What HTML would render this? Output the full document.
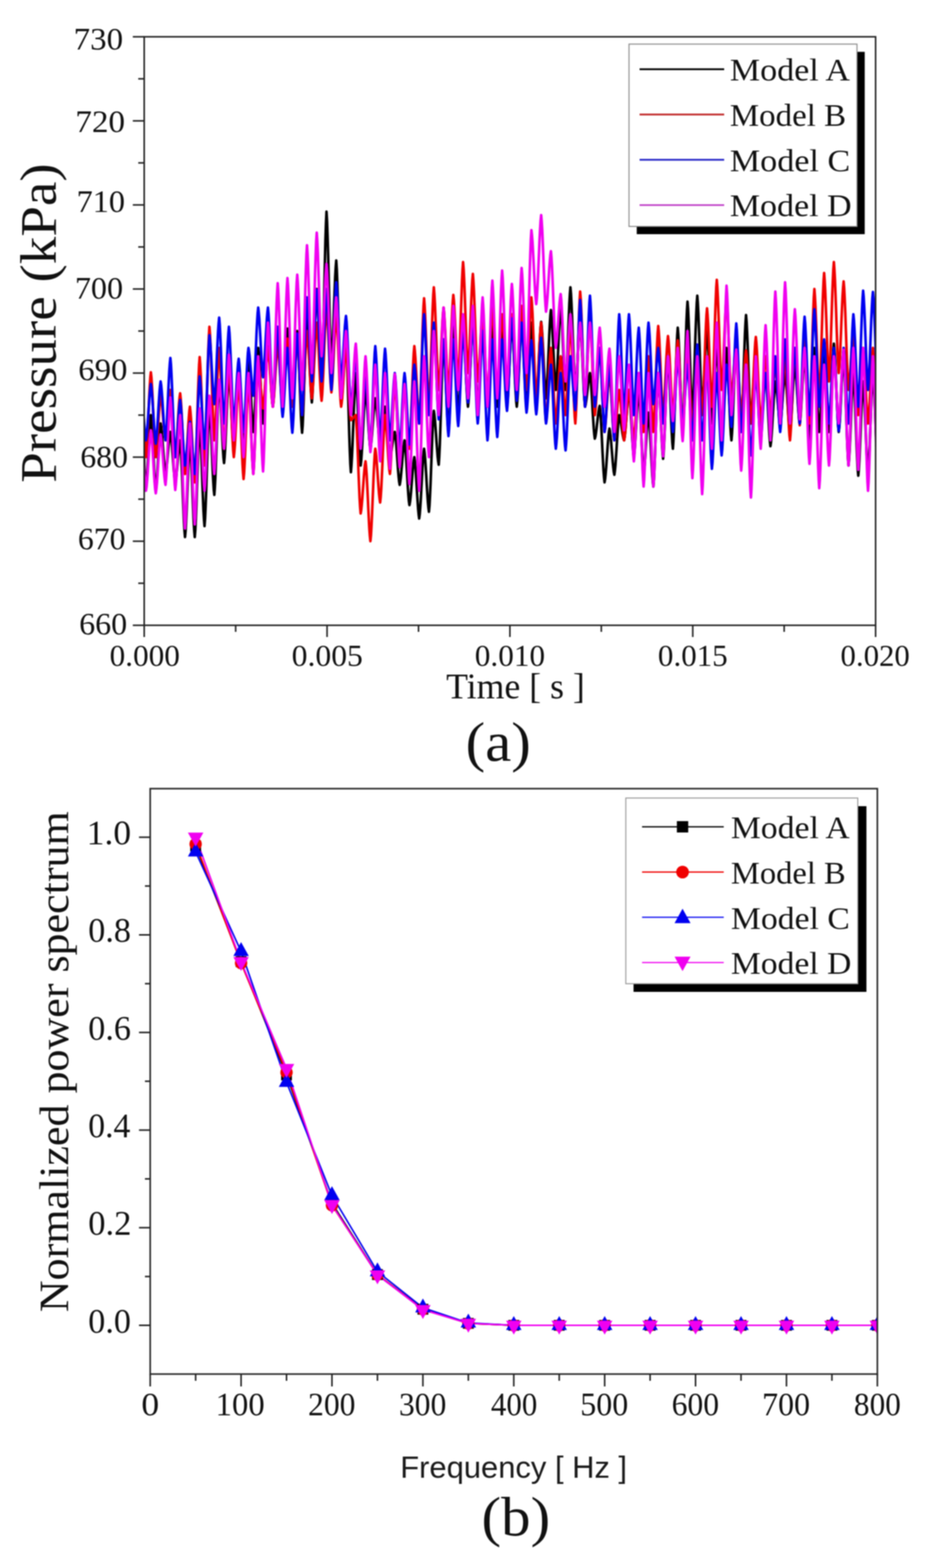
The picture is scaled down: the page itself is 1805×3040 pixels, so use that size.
<!DOCTYPE html><html><head><meta charset="utf-8"><title>Pressure and power spectrum</title><style>html,body{margin:0;padding:0;background:#fff;}svg{display:block;filter:blur(1.1px)}</style></head><body>
<svg width="1805" height="3040" viewBox="0 0 1805 3040">
<rect width="1805" height="3040" fill="#fff"/>
<defs><clipPath id="c1"><rect x="279.6" y="71.3" width="1418.0" height="1141.0"/></clipPath><clipPath id="c2"><rect x="291.2" y="1529.0" width="1409.8" height="1135.0"/></clipPath></defs>
<g clip-path="url(#c1)" fill="none" stroke-width="5.0" stroke-linejoin="round">
<path d="M277.8,855.8 278.8,879.3 279.9,901.8 280.9,921.5 282.0,936.7 283.0,946.6 284.1,937.7 285.1,924.1 286.2,906.4 287.2,886.2 288.3,865.2 289.3,845.0 290.4,827.4 291.4,813.7 292.5,804.8 293.6,814.0 294.6,828.1 295.7,846.4 296.7,867.2 297.8,889.1 298.8,909.9 299.9,928.2 300.9,942.3 302.0,951.5 303.0,943.3 304.1,930.8 305.1,914.6 306.2,896.0 307.2,876.6 308.3,858.0 309.3,841.8 310.4,829.3 311.4,821.1 312.5,827.2 313.5,836.7 314.6,848.8 315.6,862.7 316.7,877.3 317.7,891.2 318.8,903.3 319.8,912.8 320.9,918.9 321.9,913.8 323.0,905.9 324.0,895.8 325.1,884.2 326.1,872.1 327.2,860.5 328.2,850.4 329.3,842.5 330.3,837.4 331.4,843.5 332.4,853.0 333.5,865.1 334.5,879.0 335.6,893.6 336.6,907.5 337.7,919.6 338.7,929.1 339.8,935.2 340.8,930.1 341.9,922.2 342.9,912.1 344.0,900.5 345.0,888.4 346.1,876.8 347.1,866.7 348.2,858.8 349.3,853.7 350.3,865.4 351.4,883.5 352.4,906.8 353.5,933.5 354.5,961.4 355.6,988.0 356.6,1011.3 357.7,1029.4 358.7,1041.2 359.8,1029.4 360.8,1011.3 361.9,988.0 362.9,961.4 364.0,933.5 365.0,906.8 366.1,883.5 367.1,865.4 368.2,853.7 369.2,865.4 370.3,883.5 371.3,906.8 372.4,933.5 373.4,961.4 374.5,988.0 375.5,1011.3 376.6,1029.4 377.6,1041.2 378.7,1027.4 379.7,1006.1 380.8,978.8 381.8,947.5 382.9,914.8 383.9,883.4 385.0,856.1 386.0,834.9 387.1,821.1 388.1,833.5 389.2,852.7 390.2,877.4 391.3,905.8 392.3,935.3 393.4,963.6 394.4,988.3 395.5,1007.5 396.5,1020.0 397.6,1005.5 398.6,983.1 399.7,954.4 400.7,921.4 401.8,887.0 402.8,854.1 403.9,825.3 405.0,803.0 406.0,788.5 407.1,799.2 408.1,815.7 409.2,837.0 410.2,861.4 411.3,886.8 412.3,911.2 413.4,932.4 414.4,948.9 415.5,959.6 416.5,945.9 417.6,924.6 418.6,897.3 419.7,866.0 420.7,833.3 421.8,801.9 422.8,774.6 423.9,753.4 424.9,739.6 426.0,749.5 427.0,764.8 428.1,784.4 429.1,806.9 430.2,830.4 431.2,852.9 432.3,872.6 433.3,887.8 434.4,897.7 435.4,886.8 436.5,870.0 437.5,848.3 438.6,823.5 439.6,797.5 440.7,772.7 441.7,751.0 442.8,734.2 443.8,723.3 444.9,732.5 445.9,746.6 447.0,764.9 448.0,785.7 449.1,807.6 450.1,828.4 451.2,846.7 452.2,860.8 453.3,870.0 454.3,859.8 455.4,844.1 456.4,823.8 457.5,800.6 458.5,776.4 459.6,753.2 460.7,732.9 461.7,717.2 462.8,707.0 463.8,716.2 464.9,730.3 465.9,748.6 467.0,769.4 468.0,791.3 469.1,812.1 470.1,830.4 471.2,844.5 472.2,853.7 473.3,843.5 474.3,827.8 475.4,807.5 476.4,784.3 477.5,760.1 478.5,736.9 479.6,716.6 480.6,700.9 481.7,690.7 482.7,699.9 483.8,714.0 484.8,732.3 485.9,753.1 486.9,775.0 488.0,795.8 489.0,814.1 490.1,828.2 491.1,837.4 492.2,827.2 493.2,811.5 494.3,791.2 495.3,768.0 496.4,743.8 497.4,720.6 498.5,700.3 499.5,684.6 500.6,674.4 501.6,683.6 502.7,697.7 503.7,716.0 504.8,736.8 505.8,758.7 506.9,779.5 507.9,797.8 509.0,811.9 510.0,821.1 511.1,810.9 512.1,795.2 513.2,774.9 514.2,751.7 515.3,727.5 516.4,704.3 517.4,684.0 518.5,668.3 519.5,658.1 520.6,666.3 521.6,678.8 522.7,695.0 523.7,713.6 524.8,733.0 525.8,751.6 526.9,767.8 527.9,780.3 529.0,788.5 530.0,779.3 531.1,765.2 532.1,746.9 533.2,726.1 534.2,704.2 535.3,683.4 536.3,665.1 537.4,651.0 538.4,641.8 539.5,651.0 540.5,665.1 541.6,683.4 542.6,704.2 543.7,726.1 544.7,746.9 545.8,765.2 546.8,779.3 547.9,788.5 548.9,779.0 550.0,764.4 551.0,745.5 552.1,724.0 553.1,701.4 554.2,679.9 555.2,661.0 556.3,646.4 557.3,636.9 558.4,646.4 559.4,661.0 560.5,679.9 561.5,701.4 562.6,724.0 563.6,745.5 564.7,764.4 565.7,779.0 566.8,788.5 567.8,779.3 568.9,765.2 569.9,746.9 571.0,726.1 572.1,704.2 573.1,683.4 574.2,665.1 575.2,651.0 576.3,641.8 577.3,654.1 578.4,673.2 579.4,697.7 580.5,725.8 581.5,755.1 582.6,783.1 583.6,807.7 584.7,826.7 585.7,839.0 586.8,824.7 587.8,802.5 588.9,773.9 589.9,741.2 591.0,707.0 592.0,674.3 593.1,645.8 594.1,623.6 595.2,609.2 596.2,619.9 597.3,636.4 598.3,657.7 599.4,682.1 600.4,707.5 601.5,731.9 602.5,753.1 603.6,769.6 604.6,780.3 605.7,766.6 606.7,745.3 607.8,718.0 608.8,686.7 609.9,654.0 610.9,622.6 612.0,595.3 613.0,574.1 614.1,560.3 615.1,572.5 616.2,591.4 617.2,615.7 618.3,643.6 619.3,672.6 620.4,700.5 621.4,724.8 622.5,743.7 623.5,755.9 624.6,734.3 625.6,700.9 626.7,658.0 627.8,608.8 628.8,557.4 629.9,508.2 630.9,465.3 632.0,432.0 633.0,410.3 634.1,428.9 635.1,457.5 636.2,494.4 637.2,536.6 638.3,580.7 639.3,622.9 640.4,659.8 641.4,688.4 642.5,707.0 643.5,694.4 644.6,674.8 645.6,649.7 646.7,621.0 647.7,590.9 648.8,562.1 649.8,537.0 650.9,517.5 651.9,504.9 653.0,522.3 654.0,549.2 655.1,583.9 656.1,623.5 657.2,665.0 658.2,704.6 659.3,739.3 660.3,766.2 661.4,783.6 662.4,775.8 663.5,763.6 664.5,748.0 665.6,730.2 666.6,711.5 667.7,693.7 668.7,678.1 669.8,665.9 670.8,658.1 671.9,674.2 672.9,699.1 674.0,731.1 675.0,767.7 676.1,806.0 677.1,842.7 678.2,874.7 679.2,899.5 680.3,915.6 681.3,903.6 682.4,885.0 683.5,861.1 684.5,833.8 685.6,805.2 686.6,777.8 687.7,753.9 688.7,735.3 689.8,723.3 690.8,734.5 691.9,751.8 692.9,774.1 694.0,799.6 695.0,826.3 696.1,851.8 697.1,874.1 698.2,891.4 699.2,902.6 700.3,893.4 701.3,879.3 702.4,861.0 703.4,840.2 704.5,818.3 705.5,797.5 706.6,779.2 707.6,765.1 708.7,755.9 709.7,763.0 710.8,774.1 711.8,788.2 712.9,804.5 713.9,821.4 715.0,837.7 716.0,851.8 717.1,862.9 718.1,870.0 719.2,863.9 720.2,854.4 721.3,842.3 722.3,828.4 723.4,813.8 724.4,799.9 725.5,787.8 726.5,778.3 727.6,772.2 728.6,777.8 729.7,786.5 730.7,797.6 731.8,810.4 732.8,823.7 733.9,836.4 734.9,847.6 736.0,856.2 737.0,861.8 738.1,857.3 739.2,850.2 740.2,841.1 741.3,830.6 742.3,819.7 743.4,809.3 744.4,800.2 745.5,793.1 746.5,788.5 747.6,794.6 748.6,804.1 749.7,816.2 750.7,830.1 751.8,844.7 752.8,858.6 753.9,870.7 754.9,880.2 756.0,886.3 757.0,883.2 758.1,878.5 759.1,872.4 760.2,865.5 761.2,858.2 762.3,851.3 763.3,845.2 764.4,840.5 765.4,837.4 766.5,843.8 767.5,853.7 768.6,866.5 769.6,881.1 770.7,896.4 771.7,911.0 772.8,923.8 773.8,933.7 774.9,940.1 775.9,934.7 777.0,926.3 778.0,915.6 779.1,903.3 780.1,890.5 781.2,878.2 782.2,867.4 783.3,859.1 784.3,853.7 785.4,861.5 786.4,873.7 787.5,889.3 788.5,907.1 789.6,925.8 790.6,943.6 791.7,959.2 792.7,971.4 793.8,979.2 794.9,973.4 795.9,964.4 797.0,952.9 798.0,939.7 799.1,925.9 800.1,912.6 801.2,901.1 802.2,892.1 803.3,886.3 804.3,893.7 805.4,905.2 806.4,920.0 807.5,937.0 808.5,954.6 809.6,971.6 810.6,986.4 811.7,997.8 812.7,1005.3 813.8,996.8 814.8,983.8 815.9,967.0 816.9,947.7 818.0,927.6 819.0,908.3 820.1,891.5 821.1,878.5 822.2,870.0 823.2,877.6 824.3,889.4 825.3,904.6 826.4,922.0 827.4,940.2 828.5,957.6 829.5,972.8 830.6,984.6 831.6,992.2 832.7,980.0 833.7,961.1 834.8,936.8 835.8,909.0 836.9,879.9 837.9,852.1 839.0,827.8 840.0,808.9 841.1,796.6 842.1,803.2 843.2,813.2 844.2,826.2 845.3,841.1 846.3,856.6 847.4,871.4 848.4,884.4 849.5,894.4 850.6,901.0 851.6,885.8 852.7,862.3 853.7,832.2 854.8,797.6 855.8,761.5 856.9,726.9 857.9,696.7 859.0,673.3 860.0,658.1 861.1,669.3 862.1,686.6 863.2,708.9 864.2,734.4 865.3,761.1 866.3,786.6 867.4,808.9 868.4,826.2 869.5,837.4 870.5,824.1 871.6,803.7 872.6,777.4 873.7,747.2 874.7,715.7 875.8,685.5 876.8,659.2 877.9,638.8 878.9,625.5 880.0,636.7 881.0,654.0 882.1,676.3 883.1,701.8 884.2,728.5 885.2,754.0 886.3,776.3 887.3,793.6 888.4,804.8 889.4,793.6 890.5,776.3 891.5,754.0 892.6,728.5 893.6,701.8 894.7,676.3 895.7,654.0 896.8,636.7 897.8,625.5 898.9,635.7 899.9,651.4 901.0,671.7 902.0,694.9 903.1,719.1 904.1,742.3 905.2,762.6 906.3,778.3 907.3,788.5 908.4,778.3 909.4,762.6 910.5,742.3 911.5,719.1 912.6,694.9 913.6,671.7 914.7,651.4 915.7,635.7 916.8,625.5 917.8,635.7 918.9,651.4 919.9,671.7 921.0,694.9 922.0,719.1 923.1,742.3 924.1,762.6 925.2,778.3 926.2,788.5 927.3,778.3 928.3,762.6 929.4,742.3 930.4,719.1 931.5,694.9 932.5,671.7 933.6,651.4 934.6,635.7 935.7,625.5 936.7,635.7 937.8,651.4 938.8,671.7 939.9,694.9 940.9,719.1 942.0,742.3 943.0,762.6 944.1,778.3 945.1,788.5 946.2,778.3 947.2,762.6 948.3,742.3 949.3,719.1 950.4,694.9 951.4,671.7 952.5,651.4 953.5,635.7 954.6,625.5 955.6,635.7 956.7,651.4 957.7,671.7 958.8,694.9 959.8,719.1 960.9,742.3 962.0,762.6 963.0,778.3 964.1,788.5 965.1,778.3 966.2,762.6 967.2,742.3 968.3,719.1 969.3,694.9 970.4,671.7 971.4,651.4 972.5,635.7 973.5,625.5 974.6,635.7 975.6,651.4 976.7,671.7 977.7,694.9 978.8,719.1 979.8,742.3 980.9,762.6 981.9,778.3 983.0,788.5 984.0,778.3 985.1,762.6 986.1,742.3 987.2,719.1 988.2,694.9 989.3,671.7 990.3,651.4 991.4,635.7 992.4,625.5 993.5,635.7 994.5,651.4 995.6,671.7 996.6,694.9 997.7,719.1 998.7,742.3 999.8,762.6 1000.8,778.3 1001.9,788.5 1002.9,778.3 1004.0,762.6 1005.0,742.3 1006.1,719.1 1007.1,694.9 1008.2,671.7 1009.2,651.4 1010.3,635.7 1011.3,625.5 1012.4,635.7 1013.4,651.4 1014.5,671.7 1015.5,694.9 1016.6,719.1 1017.7,742.3 1018.7,762.6 1019.8,778.3 1020.8,788.5 1021.9,778.3 1022.9,762.6 1024.0,742.3 1025.0,719.1 1026.1,694.9 1027.1,671.7 1028.2,651.4 1029.2,635.7 1030.3,625.5 1031.3,635.7 1032.4,651.4 1033.4,671.7 1034.5,694.9 1035.5,719.1 1036.6,742.3 1037.6,762.6 1038.7,778.3 1039.7,788.5 1040.8,778.2 1041.8,762.3 1042.9,741.9 1043.9,718.4 1045.0,694.0 1046.0,670.5 1047.1,650.1 1048.1,634.2 1049.2,623.9 1050.2,633.1 1051.3,647.5 1052.3,665.9 1053.4,687.0 1054.4,709.1 1055.5,730.2 1056.5,748.6 1057.6,762.9 1058.6,772.2 1059.7,761.5 1060.7,745.0 1061.8,723.7 1062.8,699.3 1063.9,673.9 1064.9,649.5 1066.0,628.3 1067.0,611.8 1068.1,601.0 1069.1,610.7 1070.2,625.7 1071.2,644.9 1072.3,667.0 1073.4,690.0 1074.4,712.0 1075.5,731.3 1076.5,746.2 1077.6,755.9 1078.6,745.7 1079.7,730.0 1080.7,709.7 1081.8,686.5 1082.8,662.3 1083.9,639.1 1084.9,618.8 1086.0,603.1 1087.0,592.9 1088.1,603.1 1089.1,618.8 1090.2,639.1 1091.2,662.3 1092.3,686.5 1093.3,709.7 1094.4,730.0 1095.4,745.7 1096.5,755.9 1097.5,743.5 1098.6,724.3 1099.6,699.6 1100.7,671.2 1101.7,641.7 1102.8,613.4 1103.8,588.7 1104.9,569.5 1105.9,557.0 1107.0,569.5 1108.0,588.7 1109.1,613.4 1110.1,641.7 1111.2,671.2 1112.2,699.6 1113.3,724.3 1114.3,743.5 1115.4,755.9 1116.4,747.7 1117.5,735.2 1118.5,719.0 1119.6,700.4 1120.6,681.0 1121.7,662.4 1122.7,646.2 1123.8,633.7 1124.8,625.5 1125.9,635.7 1126.9,651.4 1128.0,671.7 1129.1,694.9 1130.1,719.1 1131.2,742.3 1132.2,762.6 1133.3,778.3 1134.3,788.5 1135.4,784.4 1136.4,778.1 1137.5,770.0 1138.5,760.7 1139.6,751.1 1140.6,741.8 1141.7,733.7 1142.7,727.4 1143.8,723.3 1144.8,731.3 1145.9,743.5 1146.9,759.3 1148.0,777.4 1149.0,796.3 1150.1,814.4 1151.1,830.2 1152.2,842.5 1153.2,850.4 1154.3,846.5 1155.3,840.3 1156.4,832.4 1157.4,823.4 1158.5,813.9 1159.5,804.9 1160.6,797.0 1161.6,790.8 1162.7,786.9 1163.7,796.1 1164.8,810.5 1165.8,828.9 1166.9,850.0 1167.9,872.1 1169.0,893.2 1170.0,911.6 1171.1,925.9 1172.1,935.2 1173.2,928.7 1174.2,918.6 1175.3,905.6 1176.3,890.8 1177.4,875.3 1178.4,860.4 1179.5,847.5 1180.5,837.4 1181.6,830.9 1182.6,836.5 1183.7,845.1 1184.8,856.3 1185.8,869.0 1186.9,882.4 1187.9,895.1 1189.0,906.3 1190.0,914.9 1191.1,920.5 1192.1,913.3 1193.2,902.1 1194.2,887.7 1195.3,871.3 1196.3,854.1 1197.4,837.6 1198.4,823.2 1199.5,812.0 1200.5,804.8 1201.6,807.9 1202.6,812.6 1203.7,818.7 1204.7,825.6 1205.8,832.9 1206.8,839.8 1207.9,845.9 1208.9,850.6 1210.0,853.7 1211.0,847.6 1212.1,838.1 1213.1,826.0 1214.2,812.1 1215.2,797.5 1216.3,783.6 1217.3,771.5 1218.4,762.0 1219.4,755.9 1220.5,764.1 1221.5,776.6 1222.6,792.8 1223.6,811.4 1224.7,830.8 1225.7,849.4 1226.8,865.6 1227.8,878.1 1228.9,886.3 1229.9,878.1 1231.0,865.6 1232.0,849.4 1233.1,830.8 1234.1,811.4 1235.2,792.8 1236.2,776.6 1237.3,764.1 1238.4,755.9 1239.4,766.1 1240.5,781.8 1241.5,802.1 1242.6,825.3 1243.6,849.5 1244.7,872.7 1245.7,893.0 1246.8,908.7 1247.8,918.9 1248.9,911.5 1249.9,900.0 1251.0,885.2 1252.0,868.2 1253.1,850.6 1254.1,833.6 1255.2,818.8 1256.2,807.4 1257.3,799.9 1258.3,808.9 1259.4,822.7 1260.4,840.6 1261.5,861.0 1262.5,882.3 1263.6,902.7 1264.6,920.5 1265.7,934.4 1266.7,943.3 1267.8,929.6 1268.8,908.3 1269.9,881.0 1270.9,849.7 1272.0,817.0 1273.0,785.6 1274.1,758.3 1275.1,737.1 1276.2,723.3 1277.2,733.7 1278.3,749.7 1279.3,770.4 1280.4,794.1 1281.4,818.8 1282.5,842.5 1283.5,863.1 1284.6,879.2 1285.6,889.6 1286.7,877.1 1287.7,857.9 1288.8,833.2 1289.8,804.9 1290.9,775.4 1291.9,747.0 1293.0,722.3 1294.1,703.1 1295.1,690.7 1296.2,701.9 1297.2,719.2 1298.3,741.5 1299.3,767.0 1300.4,793.7 1301.4,819.2 1302.5,841.5 1303.5,858.8 1304.6,870.0 1305.6,855.3 1306.7,832.7 1307.7,803.5 1308.8,770.1 1309.8,735.2 1310.9,701.8 1311.9,672.6 1313.0,650.0 1314.0,635.3 1315.1,647.9 1316.1,667.4 1317.2,692.5 1318.2,721.3 1319.3,751.4 1320.3,780.1 1321.4,805.2 1322.4,824.8 1323.5,837.4 1324.5,821.6 1325.6,797.2 1326.6,765.8 1327.7,729.9 1328.7,692.3 1329.8,656.3 1330.8,624.9 1331.9,600.5 1332.9,584.8 1334.0,598.5 1335.0,619.8 1336.1,647.1 1337.1,678.4 1338.2,711.1 1339.2,742.5 1340.3,769.8 1341.3,791.0 1342.4,804.8 1343.4,790.3 1344.5,768.0 1345.5,739.2 1346.6,706.3 1347.6,671.9 1348.7,638.9 1349.8,610.2 1350.8,587.8 1351.9,573.3 1352.9,586.8 1354.0,607.6 1355.0,634.3 1356.1,664.9 1357.1,696.9 1358.2,727.5 1359.2,754.3 1360.3,775.0 1361.3,788.5 1362.4,779.3 1363.4,765.2 1364.5,746.9 1365.5,726.1 1366.6,704.2 1367.6,683.4 1368.7,665.1 1369.7,651.0 1370.8,641.8 1371.8,653.0 1372.9,670.3 1373.9,692.6 1375.0,718.1 1376.0,744.8 1377.1,770.3 1378.1,792.6 1379.2,809.9 1380.2,821.1 1381.3,811.9 1382.3,797.8 1383.4,779.5 1384.4,758.7 1385.5,736.8 1386.5,716.0 1387.6,697.7 1388.6,683.6 1389.7,674.4 1390.7,685.6 1391.8,702.9 1392.8,725.2 1393.9,750.7 1394.9,777.4 1396.0,802.9 1397.0,825.2 1398.1,842.5 1399.1,853.7 1400.2,842.5 1401.2,825.2 1402.3,802.9 1403.3,777.4 1404.4,750.7 1405.5,725.2 1406.5,702.9 1407.6,685.6 1408.6,674.4 1409.7,685.6 1410.7,702.9 1411.8,725.2 1412.8,750.7 1413.9,777.4 1414.9,802.9 1416.0,825.2 1417.0,842.5 1418.1,853.7 1419.1,841.5 1420.2,822.6 1421.2,798.3 1422.3,770.4 1423.3,741.4 1424.4,713.5 1425.4,689.2 1426.5,670.3 1427.5,658.1 1428.6,669.3 1429.6,686.6 1430.7,708.9 1431.7,734.4 1432.8,761.1 1433.8,786.6 1434.9,808.9 1435.9,826.2 1437.0,837.4 1438.0,823.2 1439.1,801.4 1440.1,773.2 1441.2,741.0 1442.2,707.3 1443.3,675.0 1444.3,646.9 1445.4,625.0 1446.4,610.8 1447.5,624.0 1448.5,644.3 1449.6,670.4 1450.6,700.3 1451.7,731.6 1452.7,761.5 1453.8,787.7 1454.8,808.0 1455.9,821.1 1456.9,811.9 1458.0,797.8 1459.0,779.5 1460.1,758.7 1461.2,736.8 1462.2,716.0 1463.3,697.7 1464.3,683.6 1465.4,674.4 1466.4,684.6 1467.5,700.3 1468.5,720.6 1469.6,743.8 1470.6,768.0 1471.7,791.2 1472.7,811.5 1473.8,827.2 1474.8,837.4 1475.9,830.3 1476.9,819.2 1478.0,805.1 1479.0,788.8 1480.1,771.9 1481.1,755.6 1482.2,741.5 1483.2,730.4 1484.3,723.3 1485.3,732.2 1486.4,745.9 1487.4,763.5 1488.5,783.7 1489.5,804.7 1490.6,824.9 1491.6,842.6 1492.7,856.2 1493.7,865.1 1494.8,857.3 1495.8,845.1 1496.9,829.5 1497.9,811.7 1499.0,793.0 1500.0,775.2 1501.1,759.6 1502.1,747.4 1503.2,739.6 1504.2,744.7 1505.3,752.6 1506.3,762.7 1507.4,774.3 1508.4,786.4 1509.5,798.0 1510.5,808.1 1511.6,816.0 1512.6,821.1 1513.7,815.0 1514.7,805.5 1515.8,793.4 1516.9,779.5 1517.9,764.9 1519.0,751.0 1520.0,738.9 1521.1,729.4 1522.1,723.3 1523.2,730.4 1524.2,741.5 1525.3,755.6 1526.3,771.9 1527.4,788.8 1528.4,805.1 1529.5,819.2 1530.5,830.3 1531.6,837.4 1532.6,829.2 1533.7,816.7 1534.7,800.5 1535.8,781.9 1536.8,762.5 1537.9,743.9 1538.9,727.7 1540.0,715.2 1541.0,707.0 1542.1,714.1 1543.1,725.2 1544.2,739.3 1545.2,755.6 1546.3,772.5 1547.3,788.8 1548.4,802.9 1549.4,814.0 1550.5,821.1 1551.5,812.9 1552.6,800.4 1553.6,784.2 1554.7,765.6 1555.7,746.2 1556.8,727.6 1557.8,711.4 1558.9,698.9 1559.9,690.7 1561.0,700.9 1562.0,716.6 1563.1,736.9 1564.1,760.1 1565.2,784.3 1566.2,807.5 1567.3,827.8 1568.3,843.5 1569.4,853.7 1570.4,842.5 1571.5,825.2 1572.6,802.9 1573.6,777.4 1574.7,750.7 1575.7,725.2 1576.8,702.9 1577.8,685.6 1578.9,674.4 1579.9,684.6 1581.0,700.3 1582.0,720.6 1583.1,743.8 1584.1,768.0 1585.2,791.2 1586.2,811.5 1587.3,827.2 1588.3,837.4 1589.4,827.2 1590.4,811.5 1591.5,791.2 1592.5,768.0 1593.6,743.8 1594.6,720.6 1595.7,700.3 1596.7,684.6 1597.8,674.4 1598.8,684.6 1599.9,700.3 1600.9,720.6 1602.0,743.8 1603.0,768.0 1604.1,791.2 1605.1,811.5 1606.2,827.2 1607.2,837.4 1608.3,826.7 1609.3,810.2 1610.4,788.9 1611.4,764.5 1612.5,739.1 1613.5,714.7 1614.6,693.5 1615.6,677.0 1616.7,666.2 1617.7,677.0 1618.8,693.5 1619.8,714.7 1620.9,739.1 1621.9,764.5 1623.0,788.9 1624.0,810.2 1625.1,826.7 1626.1,837.4 1627.2,828.2 1628.3,814.1 1629.3,795.8 1630.4,775.0 1631.4,753.1 1632.5,732.3 1633.5,714.0 1634.6,699.9 1635.6,690.7 1636.7,704.0 1637.7,724.4 1638.8,750.7 1639.8,780.9 1640.9,812.4 1641.9,842.6 1643.0,868.9 1644.0,889.3 1645.1,902.6 1646.1,891.4 1647.2,874.1 1648.2,851.8 1649.3,826.3 1650.3,799.6 1651.4,774.1 1652.4,751.8 1653.5,734.5 1654.5,723.3 1655.6,735.7 1656.6,754.9 1657.7,779.6 1658.7,808.0 1659.8,837.5 1660.8,865.8 1661.9,890.5 1662.9,909.7 1664.0,922.2 1665.0,910.7 1666.1,893.1 1667.1,870.4 1668.2,844.4 1669.2,817.3 1670.3,791.3 1671.3,768.6 1672.4,751.0 1673.4,739.6 1674.5,750.8 1675.5,768.1 1676.6,790.4 1677.6,815.9 1678.7,842.6 1679.7,868.1 1680.8,890.4 1681.8,907.7 1682.9,918.9 1684.0,906.7 1685.0,887.8 1686.1,863.5 1687.1,835.6 1688.2,806.6 1689.2,778.7 1690.3,754.4 1691.3,735.5 1692.4,723.3 1693.4,734.5 1694.5,751.8 1695.5,774.1 1696.6,799.6 1697.6,826.3 1698.7,851.8" stroke="#000000"/>
<path d="M277.8,792.7 278.8,816.9 279.9,840.1 280.9,860.4 282.0,876.1 283.0,886.3 284.1,876.0 285.1,860.1 286.2,839.7 287.2,816.2 288.3,791.8 289.3,768.3 290.4,747.9 291.4,732.0 292.5,721.7 293.6,732.0 294.6,747.9 295.7,768.3 296.7,791.8 297.8,816.2 298.8,839.7 299.9,860.1 300.9,876.0 302.0,886.3 303.0,878.7 304.1,866.9 305.1,851.7 306.2,834.3 307.2,816.1 308.3,798.7 309.3,783.5 310.4,771.7 311.4,764.0 312.5,769.7 313.5,778.3 314.6,789.5 315.6,802.2 316.7,815.5 317.7,828.3 318.8,839.4 319.8,848.1 320.9,853.7 321.9,847.6 323.0,838.1 324.0,826.0 325.1,812.1 326.1,797.5 327.2,783.6 328.2,771.5 329.3,762.0 330.3,755.9 331.4,764.1 332.4,776.6 333.5,792.8 334.5,811.4 335.6,830.8 336.6,849.4 337.7,865.6 338.7,878.1 339.8,886.3 340.8,878.6 341.9,866.6 342.9,851.2 344.0,833.6 345.0,815.2 346.1,797.5 347.1,782.1 348.2,770.2 349.3,762.4 350.3,772.2 351.4,787.3 352.4,806.8 353.5,829.0 354.5,852.3 355.6,874.6 356.6,894.0 357.7,909.1 358.7,918.9 359.8,910.7 360.8,898.2 361.9,882.0 362.9,863.4 364.0,844.0 365.0,825.4 366.1,809.2 367.1,796.7 368.2,788.5 369.2,797.7 370.3,811.8 371.3,830.1 372.4,850.9 373.4,872.8 374.5,893.6 375.5,911.9 376.6,926.0 377.6,935.2 378.7,920.0 379.7,896.6 380.8,866.4 381.8,831.8 382.9,795.7 383.9,761.1 385.0,731.0 386.0,707.5 387.1,692.3 388.1,705.5 389.2,725.8 390.2,751.9 391.3,781.8 392.3,813.1 393.4,843.0 394.4,869.2 395.5,889.5 396.5,902.6 397.6,885.8 398.6,859.8 399.7,826.4 400.7,788.1 401.8,748.1 402.8,709.9 403.9,676.4 405.0,650.5 406.0,633.6 407.1,647.4 408.1,668.7 409.2,696.0 410.2,727.3 411.3,760.0 412.3,791.4 413.4,818.7 414.4,839.9 415.5,853.7 416.5,842.5 417.6,825.2 418.6,802.9 419.7,777.4 420.7,750.7 421.8,725.2 422.8,702.9 423.9,685.6 424.9,674.4 426.0,686.6 427.0,705.5 428.1,729.8 429.1,757.7 430.2,786.7 431.2,814.6 432.3,838.9 433.3,857.8 434.4,870.0 435.4,859.8 436.5,844.1 437.5,823.8 438.6,800.6 439.6,776.4 440.7,753.2 441.7,732.9 442.8,717.2 443.8,707.0 444.9,718.2 445.9,735.5 447.0,757.8 448.0,783.3 449.1,810.0 450.1,835.5 451.2,857.8 452.2,875.1 453.3,886.3 454.3,877.1 455.4,863.0 456.4,844.7 457.5,823.9 458.5,802.0 459.6,781.2 460.7,762.9 461.7,748.8 462.8,739.6 463.8,751.4 464.9,769.7 465.9,793.2 467.0,820.1 468.0,848.2 469.1,875.1 470.1,898.6 471.2,916.9 472.2,928.7 473.3,916.9 474.3,898.6 475.4,875.1 476.4,848.2 477.5,820.1 478.5,793.2 479.6,769.7 480.6,751.4 481.7,739.6 482.7,750.8 483.8,768.1 484.8,790.4 485.9,815.9 486.9,842.6 488.0,868.1 489.0,890.4 490.1,907.7 491.1,918.9 492.2,905.4 493.2,884.7 494.3,857.9 495.3,827.3 496.4,795.3 497.4,764.7 498.5,738.0 499.5,717.2 500.6,703.7 501.6,709.2 502.7,717.7 503.7,728.7 504.8,741.2 505.8,754.3 506.9,766.8 507.9,777.8 509.0,786.3 510.0,791.8 511.1,784.4 512.1,773.1 513.2,758.5 514.2,741.8 515.3,724.4 516.4,707.7 517.4,693.1 518.5,681.7 519.5,674.4 520.6,681.5 521.6,692.6 522.7,706.7 523.7,723.0 524.8,739.9 525.8,756.2 526.9,770.3 527.9,781.4 529.0,788.5 530.0,781.0 531.1,769.3 532.1,754.3 533.2,737.2 534.2,719.2 535.3,702.1 536.3,687.1 537.4,675.4 538.4,667.9 539.5,675.4 540.5,687.1 541.6,702.1 542.6,719.2 543.7,737.2 544.7,754.3 545.8,769.3 546.8,781.0 547.9,788.5 548.9,780.2 550.0,767.5 551.0,751.1 552.1,732.3 553.1,712.7 554.2,693.9 555.2,677.5 556.3,664.7 557.3,656.5 558.4,664.7 559.4,677.5 560.5,693.9 561.5,712.7 562.6,732.3 563.6,751.1 564.7,767.5 565.7,780.2 566.8,788.5 567.8,780.3 568.9,767.8 569.9,751.6 571.0,733.0 572.1,713.6 573.1,695.0 574.2,678.8 575.2,666.3 576.3,658.1 577.3,667.3 578.4,681.4 579.4,699.7 580.5,720.5 581.5,742.4 582.6,763.2 583.6,781.5 584.7,795.6 585.7,804.8 586.8,794.6 587.8,778.9 588.9,758.6 589.9,735.4 591.0,711.2 592.0,688.0 593.1,667.7 594.1,652.0 595.2,641.8 596.2,650.0 597.3,662.5 598.3,678.7 599.4,697.3 600.4,716.7 601.5,735.3 602.5,751.5 603.6,764.0 604.6,772.2 605.7,763.0 606.7,748.9 607.8,730.6 608.8,709.8 609.9,687.9 610.9,667.1 612.0,648.8 613.0,634.7 614.1,625.5 615.1,635.0 616.2,649.6 617.2,668.5 618.3,690.0 619.3,712.6 620.4,734.1 621.4,753.0 622.5,767.6 623.5,777.1 624.6,765.6 625.6,747.8 626.7,724.9 627.8,698.7 628.8,671.3 629.9,645.1 630.9,622.2 632.0,604.4 633.0,592.9 634.1,603.4 635.1,619.6 636.2,640.5 637.2,664.4 638.3,689.3 639.3,713.2 640.4,734.1 641.4,750.3 642.5,760.8 643.5,751.3 644.6,736.7 645.6,717.8 646.7,696.3 647.7,673.7 648.8,652.2 649.8,633.3 650.9,618.7 651.9,609.2 653.0,620.4 654.0,637.7 655.1,660.0 656.1,685.5 657.2,712.2 658.2,737.7 659.3,760.0 660.3,777.3 661.4,788.5 662.4,781.4 663.5,770.3 664.5,756.2 665.6,739.9 666.6,723.0 667.7,706.7 668.7,692.6 669.8,681.5 670.8,674.4 671.9,683.2 672.9,696.7 674.0,714.1 675.0,734.1 676.1,754.9 677.1,774.9 678.2,792.3 679.2,805.8 680.3,814.6 681.3,814.0 682.4,813.0 683.5,811.8 684.5,810.4 685.6,809.0 686.6,807.6 687.7,806.4 688.7,805.4 689.8,804.8 690.8,816.7 691.9,835.1 692.9,858.8 694.0,886.0 695.0,914.3 696.1,941.5 697.1,965.2 698.2,983.6 699.2,995.5 700.3,989.2 701.3,979.4 702.4,966.9 703.4,952.5 704.5,937.5 705.5,923.1 706.6,910.5 707.6,900.8 708.7,894.4 709.7,904.1 710.8,919.1 711.8,938.3 712.9,960.4 713.9,983.4 715.0,1005.4 716.0,1024.7 717.1,1039.6 718.1,1049.3 719.2,1038.1 720.2,1020.8 721.3,998.5 722.3,973.0 723.4,946.3 724.4,920.8 725.5,898.5 726.5,881.2 727.6,870.0 728.6,876.5 729.7,886.6 730.7,899.6 731.8,914.4 732.8,929.9 733.9,944.8 734.9,957.7 736.0,967.8 737.0,974.3 738.1,963.7 739.2,947.4 740.2,926.3 741.3,902.2 742.3,877.0 743.4,852.8 744.4,831.8 745.5,815.4 746.5,804.8 747.6,811.9 748.6,823.0 749.7,837.1 750.7,853.4 751.8,870.3 752.8,886.6 753.9,900.7 754.9,911.8 756.0,918.9 757.0,907.7 758.1,890.4 759.1,868.1 760.2,842.6 761.2,815.9 762.3,790.4 763.3,768.1 764.4,750.8 765.4,739.6 766.5,748.8 767.5,762.9 768.6,781.2 769.6,802.0 770.7,823.9 771.7,844.7 772.8,863.0 773.8,877.1 774.9,886.3 775.9,877.4 777.0,863.7 778.0,846.1 779.1,825.9 780.1,804.9 781.2,784.7 782.2,767.0 783.3,753.4 784.3,744.5 785.4,752.3 786.4,764.5 787.5,780.1 788.5,797.9 789.6,816.6 790.6,834.4 791.7,850.0 792.7,862.2 793.8,870.0 794.9,857.6 795.9,838.4 797.0,813.7 798.0,785.3 799.1,755.8 800.1,727.5 801.2,702.8 802.2,683.6 803.3,671.1 804.3,680.5 805.4,695.0 806.4,713.6 807.5,735.0 808.5,757.3 809.6,778.6 810.6,797.2 811.7,811.7 812.7,821.1 813.8,805.9 814.8,782.5 815.9,752.3 816.9,717.7 818.0,681.6 819.0,647.0 820.1,616.9 821.1,593.4 822.2,578.2 823.2,591.4 824.3,611.7 825.3,637.8 826.4,667.7 827.4,699.0 828.5,728.9 829.5,755.1 830.6,775.4 831.6,788.5 832.7,774.0 833.7,751.7 834.8,722.9 835.8,690.0 836.9,655.6 837.9,622.6 839.0,593.9 840.0,571.5 841.1,557.0 842.1,569.5 843.2,588.7 844.2,613.4 845.3,641.7 846.3,671.2 847.4,699.6 848.4,724.3 849.5,743.5 850.6,755.9 851.6,745.9 852.7,730.5 853.7,710.6 854.8,687.9 855.8,664.2 856.9,641.4 857.9,621.6 859.0,606.1 860.0,596.2 861.1,606.1 862.1,621.6 863.2,641.4 864.2,664.2 865.3,687.9 866.3,710.6 867.4,730.5 868.4,745.9 869.5,755.9 870.5,744.4 871.6,726.6 872.6,703.7 873.7,677.5 874.7,650.1 875.8,623.9 876.8,601.0 877.9,583.2 878.9,571.7 880.0,582.2 881.0,598.4 882.1,619.3 883.1,643.2 884.2,668.1 885.2,692.0 886.3,712.9 887.3,729.1 888.4,739.6 889.4,725.1 890.5,702.8 891.5,674.0 892.6,641.1 893.6,606.7 894.7,573.7 895.7,545.0 896.8,522.6 897.8,508.1 898.9,521.6 899.9,542.4 901.0,569.1 902.0,599.7 903.1,631.7 904.1,662.3 905.2,689.1 906.3,709.8 907.3,723.3 908.4,711.3 909.4,692.7 910.5,668.8 911.5,641.4 912.6,612.8 913.6,585.5 914.7,561.6 915.7,543.0 916.8,531.0 917.8,544.0 918.9,564.1 919.9,590.1 921.0,619.8 922.0,650.8 923.1,680.5 924.1,706.4 925.2,726.6 926.2,739.6 927.3,731.3 928.3,718.6 929.4,702.2 930.4,683.4 931.5,663.8 932.5,645.0 933.6,628.6 934.6,615.8 935.7,607.6 936.7,617.9 937.8,633.8 938.8,654.2 939.9,677.7 940.9,702.1 942.0,725.6 943.0,746.0 944.1,761.9 945.1,772.2 946.2,761.0 947.2,743.7 948.3,721.4 949.3,695.9 950.4,669.2 951.4,643.7 952.5,621.4 953.5,604.1 954.6,592.9 955.6,604.1 956.7,621.4 957.7,643.7 958.8,669.2 959.8,695.9 960.9,721.4 962.0,743.7 963.0,761.0 964.1,772.2 965.1,762.0 966.2,746.3 967.2,726.0 968.3,702.8 969.3,678.6 970.4,655.4 971.4,635.1 972.5,619.4 973.5,609.2 974.6,618.4 975.6,632.5 976.7,650.8 977.7,671.6 978.8,693.5 979.8,714.3 980.9,732.6 981.9,746.7 983.0,755.9 984.0,746.7 985.1,732.6 986.1,714.3 987.2,693.5 988.2,671.6 989.3,650.8 990.3,632.5 991.4,618.4 992.4,609.2 993.5,618.4 994.5,632.5 995.6,650.8 996.6,671.6 997.7,693.5 998.7,714.3 999.8,732.6 1000.8,746.7 1001.9,755.9 1002.9,745.7 1004.0,730.0 1005.0,709.7 1006.1,686.5 1007.1,662.3 1008.2,639.1 1009.2,618.8 1010.3,603.1 1011.3,592.9 1012.4,603.1 1013.4,618.8 1014.5,639.1 1015.5,662.3 1016.6,686.5 1017.7,709.7 1018.7,730.0 1019.8,745.7 1020.8,755.9 1021.9,744.7 1022.9,727.4 1024.0,705.1 1025.0,679.6 1026.1,652.9 1027.1,627.4 1028.2,605.1 1029.2,587.8 1030.3,576.6 1031.3,588.8 1032.4,607.7 1033.4,632.0 1034.5,659.9 1035.5,688.9 1036.6,716.8 1037.6,741.1 1038.7,760.0 1039.7,772.2 1040.8,763.0 1041.8,748.9 1042.9,730.6 1043.9,709.8 1045.0,687.9 1046.0,667.1 1047.1,648.8 1048.1,634.7 1049.2,625.5 1050.2,637.6 1051.3,656.4 1052.3,680.5 1053.4,708.1 1054.4,736.9 1055.5,764.5 1056.5,788.6 1057.6,807.3 1058.6,819.5 1059.7,810.4 1060.7,796.4 1061.8,778.4 1062.8,757.7 1063.9,736.2 1064.9,715.5 1066.0,697.5 1067.0,683.5 1068.1,674.4 1069.1,683.6 1070.2,697.7 1071.2,716.0 1072.3,736.8 1073.4,758.7 1074.4,779.5 1075.5,797.8 1076.5,811.9 1077.6,821.1 1078.6,812.9 1079.7,800.4 1080.7,784.2 1081.8,765.6 1082.8,746.2 1083.9,727.6 1084.9,711.4 1086.0,698.9 1087.0,690.7 1088.1,697.8 1089.1,708.9 1090.2,723.0 1091.2,739.3 1092.3,756.2 1093.3,772.5 1094.4,786.6 1095.4,797.7 1096.5,804.8 1097.5,793.6 1098.6,776.3 1099.6,754.0 1100.7,728.5 1101.7,701.8 1102.8,676.3 1103.8,654.0 1104.9,636.7 1105.9,625.5 1107.0,637.7 1108.0,656.6 1109.1,680.9 1110.1,708.8 1111.2,737.8 1112.2,765.7 1113.3,790.0 1114.3,808.9 1115.4,821.1 1116.4,805.1 1117.5,780.4 1118.5,748.6 1119.6,712.2 1120.6,674.1 1121.7,637.7 1122.7,605.9 1123.8,581.2 1124.8,565.2 1125.9,579.2 1126.9,600.7 1128.0,628.5 1129.1,660.2 1130.1,693.4 1131.2,725.2 1132.2,753.0 1133.3,774.5 1134.3,788.5 1135.4,777.3 1136.4,760.0 1137.5,737.7 1138.5,712.2 1139.6,685.5 1140.6,660.0 1141.7,637.7 1142.7,620.4 1143.8,609.2 1144.8,621.4 1145.9,640.3 1146.9,664.6 1148.0,692.5 1149.0,721.5 1150.1,749.4 1151.1,773.7 1152.2,792.6 1153.2,804.8 1154.3,796.6 1155.3,784.1 1156.4,767.9 1157.4,749.3 1158.5,729.9 1159.5,711.3 1160.6,695.1 1161.6,682.6 1162.7,674.4 1163.7,684.6 1164.8,700.3 1165.8,720.6 1166.9,743.8 1167.9,768.0 1169.0,791.2 1170.0,811.5 1171.1,827.2 1172.1,837.4 1173.2,830.3 1174.2,819.2 1175.3,805.1 1176.3,788.8 1177.4,771.9 1178.4,755.6 1179.5,741.5 1180.5,730.4 1181.6,723.3 1182.6,731.5 1183.7,744.0 1184.8,760.2 1185.8,778.8 1186.9,798.2 1187.9,816.8 1189.0,833.0 1190.0,845.5 1191.1,853.7 1192.1,847.6 1193.2,838.1 1194.2,826.0 1195.3,812.1 1196.3,797.5 1197.4,783.6 1198.4,771.5 1199.5,762.0 1200.5,755.9 1201.6,762.0 1202.6,771.5 1203.7,783.6 1204.7,797.5 1205.8,812.1 1206.8,826.0 1207.9,838.1 1208.9,847.6 1210.0,853.7 1211.0,847.6 1212.1,838.1 1213.1,826.0 1214.2,812.1 1215.2,797.5 1216.3,783.6 1217.3,771.5 1218.4,762.0 1219.4,755.9 1220.5,762.0 1221.5,771.5 1222.6,783.6 1223.6,797.5 1224.7,812.1 1225.7,826.0 1226.8,838.1 1227.8,847.6 1228.9,853.7 1229.9,845.5 1231.0,833.0 1232.0,816.8 1233.1,798.2 1234.1,778.8 1235.2,760.2 1236.2,744.0 1237.3,731.5 1238.4,723.3 1239.4,730.4 1240.5,741.5 1241.5,755.6 1242.6,771.9 1243.6,788.8 1244.7,805.1 1245.7,819.2 1246.8,830.3 1247.8,837.4 1248.9,828.2 1249.9,814.1 1251.0,795.8 1252.0,775.0 1253.1,753.1 1254.1,732.3 1255.2,714.0 1256.2,699.9 1257.3,690.7 1258.3,699.9 1259.4,714.0 1260.4,732.3 1261.5,753.1 1262.5,775.0 1263.6,795.8 1264.6,814.1 1265.7,828.2 1266.7,837.4 1267.8,824.6 1268.8,804.7 1269.9,779.2 1270.9,750.0 1272.0,719.4 1273.0,690.2 1274.1,664.7 1275.1,644.9 1276.2,632.0 1277.2,642.8 1278.3,659.5 1279.3,681.0 1280.4,705.6 1281.4,731.3 1282.5,755.8 1283.5,777.3 1284.6,794.0 1285.6,804.8 1286.7,795.2 1287.7,780.4 1288.8,761.4 1289.8,739.6 1290.9,716.8 1291.9,695.0 1293.0,676.0 1294.1,661.2 1295.1,651.6 1296.2,661.2 1297.2,676.0 1298.3,695.0 1299.3,716.8 1300.4,739.6 1301.4,761.4 1302.5,780.4 1303.5,795.2 1304.6,804.8 1305.6,795.7 1306.7,781.7 1307.7,763.7 1308.8,743.0 1309.8,721.5 1310.9,700.8 1311.9,682.8 1313.0,668.8 1314.0,659.7 1315.1,669.8 1316.1,685.4 1317.2,705.5 1318.2,728.4 1319.3,752.4 1320.3,775.4 1321.4,795.4 1322.4,811.0 1323.5,821.1 1324.5,811.9 1325.6,797.8 1326.6,779.5 1327.7,758.7 1328.7,736.8 1329.8,716.0 1330.8,697.7 1331.9,683.6 1332.9,674.4 1334.0,684.1 1335.0,699.0 1336.1,718.3 1337.1,740.3 1338.2,763.3 1339.2,785.4 1340.3,804.6 1341.3,819.6 1342.4,829.2 1343.4,819.5 1344.5,804.4 1345.5,784.9 1346.6,762.6 1347.6,739.4 1348.7,717.1 1349.8,697.7 1350.8,682.6 1351.9,672.8 1352.9,681.0 1354.0,693.8 1355.0,710.2 1356.1,729.0 1357.1,748.6 1358.2,767.4 1359.2,783.8 1360.3,796.5 1361.3,804.8 1362.4,791.9 1363.4,771.9 1364.5,746.1 1365.5,716.7 1366.6,685.9 1367.6,656.4 1368.7,630.7 1369.7,610.7 1370.8,597.8 1371.8,609.7 1372.9,628.1 1373.9,651.8 1375.0,679.0 1376.0,707.3 1377.1,734.5 1378.1,758.2 1379.2,776.6 1380.2,788.5 1381.3,773.1 1382.3,749.3 1383.4,718.8 1384.4,683.7 1385.5,647.1 1386.5,612.1 1387.6,581.5 1388.6,557.8 1389.7,542.4 1390.7,555.7 1391.8,576.3 1392.8,602.9 1393.9,633.3 1394.9,665.0 1396.0,695.4 1397.0,721.9 1398.1,742.5 1399.1,755.9 1400.2,744.7 1401.2,727.4 1402.3,705.1 1403.3,679.6 1404.4,652.9 1405.5,627.4 1406.5,605.1 1407.6,587.8 1408.6,576.6 1409.7,588.8 1410.7,607.7 1411.8,632.0 1412.8,659.9 1413.9,688.9 1414.9,716.8 1416.0,741.1 1417.0,760.0 1418.1,772.2 1419.1,765.1 1420.2,754.0 1421.2,739.9 1422.3,723.6 1423.3,706.7 1424.4,690.4 1425.4,676.3 1426.5,665.2 1427.5,658.1 1428.6,667.3 1429.6,681.4 1430.7,699.7 1431.7,720.5 1432.8,742.4 1433.8,763.2 1434.9,781.5 1435.9,795.6 1437.0,804.8 1438.0,797.0 1439.1,784.8 1440.1,769.2 1441.2,751.4 1442.2,732.7 1443.3,714.9 1444.3,699.3 1445.4,687.1 1446.4,679.3 1447.5,688.2 1448.5,701.8 1449.6,719.5 1450.6,739.7 1451.7,760.7 1452.7,780.9 1453.8,798.5 1454.8,812.2 1455.9,821.1 1456.9,810.6 1458.0,794.4 1459.0,773.5 1460.1,749.6 1461.2,724.7 1462.2,700.8 1463.3,679.9 1464.3,663.7 1465.4,653.2 1466.4,663.7 1467.5,679.9 1468.5,700.8 1469.6,724.7 1470.6,749.6 1471.7,773.5 1472.7,794.4 1473.8,810.6 1474.8,821.1 1475.9,812.9 1476.9,800.4 1478.0,784.2 1479.0,765.6 1480.1,746.2 1481.1,727.6 1482.2,711.4 1483.2,698.9 1484.3,690.7 1485.3,697.4 1486.4,707.8 1487.4,721.2 1488.5,736.5 1489.5,752.5 1490.6,767.8 1491.6,781.2 1492.7,791.6 1493.7,798.3 1494.8,792.6 1495.8,783.8 1496.9,772.4 1497.9,759.4 1499.0,745.9 1500.0,732.9 1501.1,721.5 1502.1,712.7 1503.2,707.0 1504.2,714.8 1505.3,727.0 1506.3,742.6 1507.4,760.4 1508.4,779.1 1509.5,796.9 1510.5,812.5 1511.6,824.7 1512.6,832.5 1513.7,823.6 1514.7,810.0 1515.8,792.3 1516.9,772.1 1517.9,751.1 1519.0,730.9 1520.0,713.3 1521.1,699.6 1522.1,690.7 1523.2,700.9 1524.2,716.6 1525.3,736.9 1526.3,760.1 1527.4,784.3 1528.4,807.5 1529.5,827.8 1530.5,843.5 1531.6,853.7 1532.6,842.5 1533.7,825.2 1534.7,802.9 1535.8,777.4 1536.8,750.7 1537.9,725.2 1538.9,702.9 1540.0,685.6 1541.0,674.4 1542.1,683.8 1543.1,698.3 1544.2,716.9 1545.2,738.2 1546.3,760.5 1547.3,781.9 1548.4,800.5 1549.4,815.0 1550.5,824.4 1551.5,812.9 1552.6,795.3 1553.6,772.6 1554.7,746.6 1555.7,719.5 1556.8,693.5 1557.8,670.8 1558.9,653.2 1559.9,641.8 1561.0,653.0 1562.0,670.3 1563.1,692.6 1564.1,718.1 1565.2,744.8 1566.2,770.3 1567.3,792.6 1568.3,809.9 1569.4,821.1 1570.4,804.8 1571.5,779.6 1572.6,747.2 1573.6,710.1 1574.7,671.3 1575.7,634.2 1576.8,601.8 1577.8,576.6 1578.9,560.3 1579.9,573.6 1581.0,594.0 1582.0,620.3 1583.1,650.5 1584.1,682.0 1585.2,712.2 1586.2,738.5 1587.3,758.9 1588.3,772.2 1589.4,757.0 1590.4,733.6 1591.5,703.4 1592.5,668.8 1593.6,632.7 1594.6,598.1 1595.7,568.0 1596.7,544.5 1597.8,529.3 1598.8,542.5 1599.9,562.8 1600.9,588.9 1602.0,618.8 1603.0,650.1 1604.1,680.0 1605.1,706.2 1606.2,726.5 1607.2,739.6 1608.3,725.1 1609.3,702.8 1610.4,674.0 1611.4,641.1 1612.5,606.7 1613.5,573.7 1614.6,545.0 1615.6,522.6 1616.7,508.1 1617.7,521.6 1618.8,542.4 1619.8,569.1 1620.9,599.7 1621.9,631.7 1623.0,662.3 1624.0,689.1 1625.1,709.8 1626.1,723.3 1627.2,712.2 1628.3,695.0 1629.3,673.0 1630.4,647.7 1631.4,621.3 1632.5,596.0 1633.5,573.9 1634.6,556.7 1635.6,545.6 1636.7,558.8 1637.7,579.1 1638.8,605.2 1639.8,635.1 1640.9,666.4 1641.9,696.3 1643.0,722.5 1644.0,742.8 1645.1,755.9 1646.1,748.8 1647.2,737.7 1648.2,723.6 1649.3,707.3 1650.3,690.4 1651.4,674.1 1652.4,660.0 1653.5,648.9 1654.5,641.8 1655.6,652.0 1656.6,667.7 1657.7,688.0 1658.7,711.2 1659.8,735.4 1660.8,758.6 1661.9,778.9 1662.9,794.6 1664.0,804.8 1665.0,796.6 1666.1,784.1 1667.1,767.9 1668.2,749.3 1669.2,729.9 1670.3,711.3 1671.3,695.1 1672.4,682.6 1673.4,674.4 1674.5,683.6 1675.5,697.7 1676.6,716.0 1677.6,736.8 1678.7,758.7 1679.7,779.5 1680.8,797.8 1681.8,811.9 1682.9,821.1 1684.0,811.9 1685.0,797.8 1686.1,779.5 1687.1,758.7 1688.2,736.8 1689.2,716.0 1690.3,697.7 1691.3,683.6 1692.4,674.4 1693.4,683.6 1694.5,697.7 1695.5,716.0 1696.6,736.8 1697.6,758.7 1698.7,779.5" stroke="#f00000"/>
<path d="M277.8,797.5 278.8,812.1 279.9,826.0 280.9,838.1 282.0,847.6 283.0,853.7 284.1,846.9 285.1,836.3 286.2,822.8 287.2,807.2 288.3,791.0 289.3,775.4 290.4,761.9 291.4,751.3 292.5,744.5 293.6,751.7 294.6,762.9 295.7,777.3 296.7,793.8 297.8,811.0 298.8,827.4 299.9,841.8 300.9,853.0 302.0,860.2 303.0,852.7 304.1,841.0 305.1,826.0 306.2,808.9 307.2,790.9 308.3,773.8 309.3,758.8 310.4,747.1 311.4,739.6 312.5,746.7 313.5,757.8 314.6,771.9 315.6,788.2 316.7,805.1 317.7,821.4 318.8,835.5 319.8,846.6 320.9,853.7 321.9,843.7 323.0,828.3 324.0,808.4 325.1,785.7 326.1,762.0 327.2,739.2 328.2,719.4 329.3,703.9 330.3,694.0 331.4,706.0 332.4,724.6 333.5,748.5 334.5,775.8 335.6,804.4 336.6,831.8 337.7,855.7 338.7,874.3 339.8,886.3 340.8,879.4 341.9,868.7 342.9,854.9 344.0,839.1 345.0,822.6 346.1,806.9 347.1,793.1 348.2,782.4 349.3,775.5 350.3,783.4 351.4,795.7 352.4,811.5 353.5,829.6 354.5,848.5 355.6,866.6 356.6,882.4 357.7,894.6 358.7,902.6 359.8,897.3 360.8,889.1 361.9,878.6 362.9,866.5 364.0,853.9 365.0,841.9 366.1,831.3 367.1,823.1 368.2,817.8 369.2,824.2 370.3,833.9 371.3,846.5 372.4,860.9 373.4,875.9 374.5,890.3 375.5,902.8 376.6,912.6 377.6,918.9 378.7,907.1 379.7,888.8 380.8,865.3 381.8,838.4 382.9,810.3 383.9,783.4 385.0,759.9 386.0,741.6 387.1,729.8 388.1,738.6 389.2,752.1 390.2,769.5 391.3,789.5 392.3,810.3 393.4,830.3 394.4,847.7 395.5,861.2 396.5,870.0 397.6,856.2 398.6,835.0 399.7,807.7 400.7,776.3 401.8,743.6 402.8,712.3 403.9,685.0 405.0,663.7 406.0,649.9 407.1,658.3 408.1,671.2 409.2,687.8 410.2,706.8 411.3,726.7 412.3,745.7 413.4,762.3 414.4,775.3 415.5,783.6 416.5,773.1 417.6,756.9 418.6,736.0 419.7,712.1 420.7,687.2 421.8,663.3 422.8,642.4 423.9,626.2 424.9,615.7 426.0,628.6 427.0,648.4 428.1,673.9 429.1,703.1 430.2,733.7 431.2,762.9 432.3,788.4 433.3,808.3 434.4,821.1 435.4,809.4 436.5,791.3 437.5,768.0 438.6,741.3 439.6,713.4 440.7,686.8 441.7,663.5 442.8,645.4 443.8,633.6 444.9,645.4 445.9,663.5 447.0,686.8 448.0,713.4 449.1,741.3 450.1,768.0 451.2,791.3 452.2,809.4 453.3,821.1 454.3,813.3 455.4,801.1 456.4,785.5 457.5,767.7 458.5,749.0 459.6,731.2 460.7,715.6 461.7,703.4 462.8,695.6 463.8,704.5 464.9,718.1 465.9,735.8 467.0,756.0 468.0,777.0 469.1,797.2 470.1,814.8 471.2,828.5 472.2,837.4 473.3,827.2 474.3,811.5 475.4,791.2 476.4,768.0 477.5,743.8 478.5,720.6 479.6,700.3 480.6,684.6 481.7,674.4 482.7,680.2 483.8,689.2 484.8,700.7 485.9,714.0 486.9,727.8 488.0,741.0 489.0,752.5 490.1,761.5 491.1,767.3 492.2,756.6 493.2,740.1 494.3,718.8 495.3,694.5 496.4,669.0 497.4,644.7 498.5,623.4 499.5,606.9 500.6,596.2 501.6,604.6 502.7,617.7 503.7,634.5 504.8,653.8 505.8,673.9 506.9,693.1 507.9,709.9 509.0,723.0 510.0,731.4 511.1,723.0 512.1,709.9 513.2,693.1 514.2,673.9 515.3,653.8 516.4,634.5 517.4,617.7 518.5,604.6 519.5,596.2 520.6,607.7 521.6,625.5 522.7,648.3 523.7,674.6 524.8,701.9 525.8,728.2 526.9,751.0 527.9,768.8 529.0,780.3 530.0,771.2 531.1,757.0 532.1,738.8 533.2,717.9 534.2,696.1 535.3,675.2 536.3,657.0 537.4,642.8 538.4,633.6 539.5,644.6 540.5,661.4 541.6,683.1 542.6,707.9 543.7,733.8 544.7,758.6 545.8,780.3 546.8,797.2 547.9,808.1 548.9,799.7 550.0,786.8 551.0,770.2 552.1,751.2 553.1,731.3 554.2,712.3 555.2,695.7 556.3,682.8 557.3,674.4 558.4,684.7 559.4,700.6 560.5,721.0 561.5,744.5 562.6,768.9 563.6,792.4 564.7,812.8 565.7,828.7 566.8,839.0 567.8,827.0 568.9,808.4 569.9,784.5 571.0,757.2 572.1,728.6 573.1,701.2 574.2,677.3 575.2,658.7 576.3,646.7 577.3,656.6 578.4,671.8 579.4,691.5 580.5,714.0 581.5,737.5 582.6,760.0 583.6,779.6 584.7,794.9 585.7,804.8 586.8,790.5 587.8,768.5 588.9,740.1 589.9,707.7 591.0,673.7 592.0,641.3 593.1,612.9 594.1,590.9 595.2,576.6 596.2,586.8 597.3,602.5 598.3,622.8 599.4,646.0 600.4,670.2 601.5,693.4 602.5,713.7 603.6,729.4 604.6,739.6 605.7,728.5 606.7,711.3 607.8,689.3 608.8,664.0 609.9,637.6 610.9,612.3 612.0,590.2 613.0,573.0 614.1,561.9 615.1,573.0 616.2,590.2 617.2,612.3 618.3,637.6 619.3,664.0 620.4,689.3 621.4,711.3 622.5,728.5 623.5,739.6 624.6,728.4 625.6,711.1 626.7,688.8 627.8,663.3 628.8,636.6 629.9,611.1 630.9,588.8 632.0,571.5 633.0,560.3 634.1,572.5 635.1,591.4 636.2,615.7 637.2,643.6 638.3,672.6 639.3,700.5 640.4,724.8 641.4,743.7 642.5,755.9 643.5,742.9 644.6,722.7 645.6,696.8 646.7,667.1 647.7,636.1 648.8,606.4 649.8,580.4 650.9,560.3 651.9,547.3 653.0,559.3 654.0,577.9 655.1,601.8 656.1,629.1 657.2,657.7 658.2,685.1 659.3,709.0 660.3,727.6 661.4,739.6 662.4,731.6 663.5,719.4 664.5,703.6 665.6,685.5 666.6,666.6 667.7,648.5 668.7,632.7 669.8,620.4 670.8,612.5 671.9,623.5 672.9,640.5 674.0,662.3 675.0,687.4 676.1,713.6 677.1,738.6 678.2,760.5 679.2,777.5 680.3,788.5 681.3,782.4 682.4,772.9 683.5,760.8 684.5,746.9 685.6,732.3 686.6,718.4 687.7,706.3 688.7,696.8 689.8,690.7 690.8,701.9 691.9,719.2 692.9,741.5 694.0,767.0 695.0,793.7 696.1,819.2 697.1,841.5 698.2,858.8 699.2,870.0 700.3,860.8 701.3,846.7 702.4,828.4 703.4,807.6 704.5,785.7 705.5,764.9 706.6,746.6 707.6,732.5 708.7,723.3 709.7,732.5 710.8,746.6 711.8,764.9 712.9,785.7 713.9,807.6 715.0,828.4 716.0,846.7 717.1,860.8 718.1,870.0 719.2,857.6 720.2,838.4 721.3,813.7 722.3,785.3 723.4,755.8 724.4,727.5 725.5,702.8 726.5,683.6 727.6,671.1 728.6,682.6 729.7,700.2 730.7,722.9 731.8,748.9 732.8,776.0 733.9,802.0 734.9,824.7 736.0,842.3 737.0,853.7 738.1,842.6 739.2,825.4 740.2,803.4 741.3,778.1 742.3,751.7 743.4,726.4 744.4,704.3 745.5,687.1 746.5,676.0 747.6,687.1 748.6,704.3 749.7,726.4 750.7,751.7 751.8,778.1 752.8,803.4 753.9,825.4 754.9,842.6 756.0,853.7 757.0,845.5 758.1,833.0 759.1,816.8 760.2,798.2 761.2,778.8 762.3,760.2 763.3,744.0 764.4,731.5 765.4,723.3 766.5,732.5 767.5,746.6 768.6,764.9 769.6,785.7 770.7,807.6 771.7,828.4 772.8,846.7 773.8,860.8 774.9,870.0 775.9,860.8 777.0,846.7 778.0,828.4 779.1,807.6 780.1,785.7 781.2,764.9 782.2,746.6 783.3,732.5 784.3,723.3 785.4,732.0 786.4,745.3 787.5,762.6 788.5,782.3 789.6,802.9 790.6,822.6 791.7,839.8 792.7,853.2 793.8,861.8 794.9,852.2 795.9,837.2 797.0,818.0 798.0,795.9 799.1,772.9 800.1,750.9 801.2,731.6 802.2,716.7 803.3,707.0 804.3,714.1 805.4,725.2 806.4,739.3 807.5,755.6 808.5,772.5 809.6,788.8 810.6,802.9 811.7,814.0 812.7,821.1 813.8,807.8 814.8,787.4 815.9,761.1 816.9,730.9 818.0,699.4 819.0,669.2 820.1,642.9 821.1,622.5 822.2,609.2 823.2,621.4 824.3,640.3 825.3,664.6 826.4,692.5 827.4,721.5 828.5,749.4 829.5,773.7 830.6,792.6 831.6,804.8 832.7,793.6 833.7,776.3 834.8,754.0 835.8,728.5 836.9,701.8 837.9,676.3 839.0,654.0 840.0,636.7 841.1,625.5 842.1,637.2 843.2,655.3 844.2,678.6 845.3,705.3 846.3,733.2 847.4,759.8 848.4,783.1 849.5,801.2 850.6,812.9 851.6,803.3 852.7,788.3 853.7,769.1 854.8,747.0 855.8,724.0 856.9,702.0 857.9,682.7 859.0,667.8 860.0,658.1 861.1,669.8 862.1,687.9 863.2,711.2 864.2,737.9 865.3,765.8 866.3,792.4 867.4,815.7 868.4,833.8 869.5,845.5 870.5,833.8 871.6,815.7 872.6,792.4 873.7,765.8 874.7,737.9 875.8,711.2 876.8,687.9 877.9,669.8 878.9,658.1 880.0,668.6 881.0,684.8 882.1,705.7 883.1,729.6 884.2,754.5 885.2,778.4 886.3,799.3 887.3,815.5 888.4,826.0 889.4,814.5 890.5,796.7 891.5,773.8 892.6,747.6 893.6,720.2 894.7,694.0 895.7,671.1 896.8,653.3 897.8,641.8 898.9,650.5 899.9,663.8 901.0,681.1 902.0,700.8 903.1,721.4 904.1,741.1 905.2,758.3 906.3,771.7 907.3,780.3 908.4,770.7 909.4,755.7 910.5,736.5 911.5,714.4 912.6,691.4 913.6,669.4 914.7,650.1 915.7,635.2 916.8,625.5 917.8,637.7 918.9,656.6 919.9,680.9 921.0,708.8 922.0,737.8 923.1,765.7 924.1,790.0 925.2,808.9 926.2,821.1 927.3,809.9 928.3,792.6 929.4,770.3 930.4,744.8 931.5,718.1 932.5,692.6 933.6,670.3 934.6,653.0 935.7,641.8 936.7,655.1 937.8,675.5 938.8,701.8 939.9,732.0 940.9,763.5 942.0,793.7 943.0,820.0 944.1,840.4 945.1,853.7 946.2,841.5 947.2,822.6 948.3,798.3 949.3,770.4 950.4,741.4 951.4,713.5 952.5,689.2 953.5,670.3 954.6,658.1 955.6,669.9 956.7,688.2 957.7,711.7 958.8,738.6 959.8,766.7 960.9,793.6 962.0,817.1 963.0,835.4 964.1,847.2 965.1,835.4 966.2,817.1 967.2,793.6 968.3,766.7 969.3,738.6 970.4,711.7 971.4,688.2 972.5,669.9 973.5,658.1 974.6,666.8 975.6,680.1 976.7,697.4 977.7,717.1 978.8,737.7 979.8,757.4 980.9,774.6 981.9,788.0 983.0,796.6 984.0,785.4 985.1,768.1 986.1,745.8 987.2,720.3 988.2,693.7 989.3,668.2 990.3,645.9 991.4,628.6 992.4,617.3 993.5,627.3 994.5,642.8 995.6,662.6 996.6,685.3 997.7,709.1 998.7,731.8 999.8,751.7 1000.8,767.1 1001.9,777.1 1002.9,767.6 1004.0,753.0 1005.0,734.1 1006.1,712.6 1007.1,690.0 1008.2,668.5 1009.2,649.6 1010.3,635.0 1011.3,625.5 1012.4,636.4 1013.4,653.2 1014.5,674.9 1015.5,699.7 1016.6,725.7 1017.7,750.5 1018.7,772.2 1019.8,789.0 1020.8,799.9 1021.9,791.1 1022.9,777.6 1024.0,760.2 1025.0,740.2 1026.1,719.4 1027.1,699.4 1028.2,682.0 1029.2,668.5 1030.3,659.7 1031.3,668.7 1032.4,682.5 1033.4,700.4 1034.5,720.8 1035.5,742.1 1036.6,762.5 1037.6,780.4 1038.7,794.2 1039.7,803.2 1040.8,793.9 1041.8,779.6 1042.9,761.1 1043.9,740.0 1045.0,718.0 1046.0,696.9 1047.1,678.4 1048.1,664.1 1049.2,654.8 1050.2,665.2 1051.3,681.3 1052.3,701.9 1053.4,725.6 1054.4,750.3 1055.5,774.0 1056.5,794.7 1057.6,810.7 1058.6,821.1 1059.7,814.0 1060.7,802.9 1061.8,788.8 1062.8,772.5 1063.9,755.6 1064.9,739.3 1066.0,725.2 1067.0,714.1 1068.1,707.0 1069.1,717.2 1070.2,732.9 1071.2,753.2 1072.3,776.4 1073.4,800.6 1074.4,823.8 1075.5,844.1 1076.5,859.8 1077.6,870.0 1078.6,860.8 1079.7,846.7 1080.7,828.4 1081.8,807.6 1082.8,785.7 1083.9,764.9 1084.9,746.6 1086.0,732.5 1087.0,723.3 1088.1,732.7 1089.1,747.2 1090.2,765.8 1091.2,787.1 1092.3,809.4 1093.3,830.8 1094.4,849.4 1095.4,863.9 1096.5,873.3 1097.5,861.8 1098.6,844.2 1099.6,821.5 1100.7,795.5 1101.7,768.4 1102.8,742.4 1103.8,719.7 1104.9,702.1 1105.9,690.7 1107.0,697.2 1108.0,707.3 1109.1,720.3 1110.1,735.1 1111.2,750.6 1112.2,765.5 1113.3,778.4 1114.3,788.5 1115.4,795.0 1116.4,781.7 1117.5,761.1 1118.5,734.5 1119.6,704.1 1120.6,672.4 1121.7,642.0 1122.7,615.5 1123.8,594.8 1124.8,581.5 1125.9,594.4 1126.9,614.4 1128.0,640.1 1129.1,669.6 1130.1,700.4 1131.2,729.8 1132.2,755.6 1133.3,775.6 1134.3,788.5 1135.4,775.0 1136.4,754.3 1137.5,727.5 1138.5,696.9 1139.6,664.9 1140.6,634.3 1141.7,607.6 1142.7,586.8 1143.8,573.3 1144.8,586.8 1145.9,607.6 1146.9,634.3 1148.0,664.9 1149.0,696.9 1150.1,727.5 1151.1,754.3 1152.2,775.0 1153.2,788.5 1154.3,781.4 1155.3,770.3 1156.4,756.2 1157.4,739.9 1158.5,723.0 1159.5,706.7 1160.6,692.6 1161.6,681.5 1162.7,674.4 1163.7,684.6 1164.8,700.3 1165.8,720.6 1166.9,743.8 1167.9,768.0 1169.0,791.2 1170.0,811.5 1171.1,827.2 1172.1,837.4 1173.2,829.2 1174.2,816.7 1175.3,800.5 1176.3,781.9 1177.4,762.5 1178.4,743.9 1179.5,727.7 1180.5,715.2 1181.6,707.0 1182.6,716.2 1183.7,730.3 1184.8,748.6 1185.8,769.4 1186.9,791.3 1187.9,812.1 1189.0,830.4 1190.0,844.5 1191.1,853.7 1192.1,838.4 1193.2,814.8 1194.2,784.4 1195.3,749.6 1196.3,713.3 1197.4,678.5 1198.4,648.1 1199.5,624.5 1200.5,609.2 1201.6,621.4 1202.6,640.3 1203.7,664.6 1204.7,692.5 1205.8,721.5 1206.8,749.4 1207.9,773.7 1208.9,792.6 1210.0,804.8 1211.0,792.6 1212.1,773.7 1213.1,749.4 1214.2,721.5 1215.2,692.5 1216.3,664.6 1217.3,640.3 1218.4,621.4 1219.4,609.2 1220.5,621.4 1221.5,640.3 1222.6,664.6 1223.6,692.5 1224.7,721.5 1225.7,749.4 1226.8,773.7 1227.8,792.6 1228.9,804.8 1229.9,794.2 1231.0,777.8 1232.0,756.8 1233.1,732.6 1234.1,707.4 1235.2,683.3 1236.2,662.2 1237.3,645.9 1238.4,635.3 1239.4,646.9 1240.5,664.8 1241.5,687.9 1242.6,714.4 1243.6,742.0 1244.7,768.5 1245.7,791.5 1246.8,809.5 1247.8,821.1 1248.9,808.9 1249.9,790.0 1251.0,765.7 1252.0,737.8 1253.1,708.8 1254.1,680.9 1255.2,656.6 1256.2,637.7 1257.3,625.5 1258.3,635.4 1259.4,650.7 1260.4,670.3 1261.5,692.8 1262.5,716.3 1263.6,738.8 1264.6,758.5 1265.7,773.7 1266.7,783.6 1267.8,776.8 1268.8,766.2 1269.9,752.7 1270.9,737.1 1272.0,720.9 1273.0,705.3 1274.1,691.8 1275.1,681.2 1276.2,674.4 1277.2,683.6 1278.3,697.7 1279.3,716.0 1280.4,736.8 1281.4,758.7 1282.5,779.5 1283.5,797.8 1284.6,811.9 1285.6,821.1 1286.7,812.9 1287.7,800.4 1288.8,784.2 1289.8,765.6 1290.9,746.2 1291.9,727.6 1293.0,711.4 1294.1,698.9 1295.1,690.7 1296.2,699.9 1297.2,714.0 1298.3,732.3 1299.3,753.1 1300.4,775.0 1301.4,795.8 1302.5,814.1 1303.5,828.2 1304.6,837.4 1305.6,828.2 1306.7,814.1 1307.7,795.8 1308.8,775.0 1309.8,753.1 1310.9,732.3 1311.9,714.0 1313.0,699.9 1314.0,690.7 1315.1,698.9 1316.1,711.4 1317.2,727.6 1318.2,746.2 1319.3,765.6 1320.3,784.2 1321.4,800.4 1322.4,812.9 1323.5,821.1 1324.5,814.0 1325.6,802.9 1326.6,788.8 1327.7,772.5 1328.7,755.6 1329.8,739.3 1330.8,725.2 1331.9,714.1 1332.9,707.0 1334.0,716.2 1335.0,730.3 1336.1,748.6 1337.1,769.4 1338.2,791.3 1339.2,812.1 1340.3,830.4 1341.3,844.5 1342.4,853.7 1343.4,842.1 1344.5,824.1 1345.5,801.1 1346.6,774.6 1347.6,747.0 1348.7,720.5 1349.8,697.4 1350.8,679.5 1351.9,667.9 1352.9,679.5 1354.0,697.4 1355.0,720.5 1356.1,747.0 1357.1,774.6 1358.2,801.1 1359.2,824.1 1360.3,842.1 1361.3,853.7 1362.4,844.5 1363.4,830.4 1364.5,812.1 1365.5,791.3 1366.6,769.4 1367.6,748.6 1368.7,730.3 1369.7,716.2 1370.8,707.0 1371.8,719.6 1372.9,739.2 1373.9,764.3 1375.0,793.0 1376.0,823.1 1377.1,851.9 1378.1,877.0 1379.2,896.5 1380.2,909.1 1381.3,897.5 1382.3,879.6 1383.4,856.5 1384.4,830.0 1385.5,802.4 1386.5,775.9 1387.6,752.9 1388.6,734.9 1389.7,723.3 1390.7,733.3 1391.8,748.7 1392.8,768.6 1393.9,791.3 1394.9,815.0 1396.0,837.8 1397.0,857.6 1398.1,873.1 1399.1,883.0 1400.2,872.0 1401.2,855.0 1402.3,833.2 1403.3,808.1 1404.4,781.9 1405.5,756.9 1406.5,735.0 1407.6,718.0 1408.6,707.0 1409.7,714.5 1410.7,726.2 1411.8,741.2 1412.8,758.3 1413.9,776.3 1414.9,793.4 1416.0,808.4 1417.0,820.1 1418.1,827.6 1419.1,815.1 1420.2,795.7 1421.2,770.8 1422.3,742.3 1423.3,712.5 1424.4,683.9 1425.4,659.0 1426.5,639.7 1427.5,627.1 1428.6,640.3 1429.6,660.6 1430.7,686.7 1431.7,716.6 1432.8,747.9 1433.8,777.8 1434.9,804.0 1435.9,824.3 1437.0,837.4 1438.0,829.2 1439.1,816.7 1440.1,800.5 1441.2,781.9 1442.2,762.5 1443.3,743.9 1444.3,727.7 1445.4,715.2 1446.4,707.0 1447.5,718.0 1448.5,735.0 1449.6,756.9 1450.6,781.9 1451.7,808.1 1452.7,833.2 1453.8,855.0 1454.8,872.0 1455.9,883.0 1456.9,873.1 1458.0,857.6 1459.0,837.8 1460.1,815.0 1461.2,791.3 1462.2,768.6 1463.3,748.7 1464.3,733.3 1465.4,723.3 1466.4,731.5 1467.5,744.0 1468.5,760.2 1469.6,778.8 1470.6,798.2 1471.7,816.8 1472.7,833.0 1473.8,845.5 1474.8,853.7 1475.9,845.5 1476.9,833.0 1478.0,816.8 1479.0,798.2 1480.1,778.8 1481.1,760.2 1482.2,744.0 1483.2,731.5 1484.3,723.3 1485.3,730.4 1486.4,741.5 1487.4,755.6 1488.5,771.9 1489.5,788.8 1490.6,805.1 1491.6,819.2 1492.7,830.3 1493.7,837.4 1494.8,828.2 1495.8,814.1 1496.9,795.8 1497.9,775.0 1499.0,753.1 1500.0,732.3 1501.1,714.0 1502.1,699.9 1503.2,690.7 1504.2,699.9 1505.3,714.0 1506.3,732.3 1507.4,753.1 1508.4,775.0 1509.5,795.8 1510.5,814.1 1511.6,828.2 1512.6,837.4 1513.7,826.2 1514.7,808.9 1515.8,786.6 1516.9,761.1 1517.9,734.4 1519.0,708.9 1520.0,686.6 1521.1,669.3 1522.1,658.1 1523.2,668.3 1524.2,684.0 1525.3,704.3 1526.3,727.5 1527.4,751.7 1528.4,774.9 1529.5,795.2 1530.5,810.9 1531.6,821.1 1532.6,811.9 1533.7,797.8 1534.7,779.5 1535.8,758.7 1536.8,736.8 1537.9,716.0 1538.9,697.7 1540.0,683.6 1541.0,674.4 1542.1,683.6 1543.1,697.7 1544.2,716.0 1545.2,736.8 1546.3,758.7 1547.3,779.5 1548.4,797.8 1549.4,811.9 1550.5,821.1 1551.5,808.2 1552.6,788.2 1553.6,762.4 1554.7,733.0 1555.7,702.2 1556.8,672.7 1557.8,647.0 1558.9,627.0 1559.9,614.1 1561.0,626.0 1562.0,644.4 1563.1,668.1 1564.1,695.3 1565.2,723.6 1566.2,750.8 1567.3,774.5 1568.3,792.9 1569.4,804.8 1570.4,792.0 1571.5,772.1 1572.6,746.6 1573.6,717.4 1574.7,686.8 1575.7,657.6 1576.8,632.1 1577.8,612.3 1578.9,599.4 1579.9,611.2 1581.0,629.5 1582.0,653.0 1583.1,679.9 1584.1,708.0 1585.2,734.9 1586.2,758.4 1587.3,776.7 1588.3,788.5 1589.4,780.3 1590.4,767.8 1591.5,751.6 1592.5,733.0 1593.6,713.6 1594.6,695.0 1595.7,678.8 1596.7,666.3 1597.8,658.1 1598.8,668.3 1599.9,684.0 1600.9,704.3 1602.0,727.5 1603.0,751.7 1604.1,774.9 1605.1,795.2 1606.2,810.9 1607.2,821.1 1608.3,811.9 1609.3,797.8 1610.4,779.5 1611.4,758.7 1612.5,736.8 1613.5,716.0 1614.6,697.7 1615.6,683.6 1616.7,674.4 1617.7,684.5 1618.8,700.1 1619.8,720.1 1620.9,743.1 1621.9,767.1 1623.0,790.0 1624.0,810.1 1625.1,825.7 1626.1,835.8 1627.2,825.7 1628.3,810.1 1629.3,790.0 1630.4,767.1 1631.4,743.1 1632.5,720.1 1633.5,700.1 1634.6,684.5 1635.6,674.4 1636.7,683.6 1637.7,697.7 1638.8,716.0 1639.8,736.8 1640.9,758.7 1641.9,779.5 1643.0,797.8 1644.0,811.9 1645.1,821.1 1646.1,807.8 1647.2,787.4 1648.2,761.1 1649.3,730.9 1650.3,699.4 1651.4,669.2 1652.4,642.9 1653.5,622.5 1654.5,609.2 1655.6,620.4 1656.6,637.7 1657.7,660.0 1658.7,685.5 1659.8,712.2 1660.8,737.7 1661.9,760.0 1662.9,777.3 1664.0,788.5 1665.0,774.4 1666.1,752.7 1667.1,724.8 1668.2,692.7 1669.2,659.3 1670.3,627.3 1671.3,599.3 1672.4,577.6 1673.4,563.6 1674.5,575.6 1675.5,594.2 1676.6,618.1 1677.6,645.4 1678.7,674.0 1679.7,701.4 1680.8,725.3 1681.8,743.9 1682.9,755.9 1684.0,744.0 1685.0,725.7 1686.1,702.1 1687.1,675.1 1688.2,646.8 1689.2,619.8 1690.3,596.2 1691.3,577.9 1692.4,566.0 1693.4,577.9 1694.5,596.2 1695.5,619.8 1696.6,646.8 1697.6,675.1 1698.7,702.1" stroke="#0000f0"/>
<path d="M277.8,876.6 278.8,896.0 279.9,914.6 280.9,930.8 282.0,943.3 283.0,951.5 284.1,944.2 285.1,932.8 286.2,918.2 287.2,901.5 288.3,884.1 289.3,867.4 290.4,852.8 291.4,841.5 292.5,834.1 293.6,841.8 294.6,853.6 295.7,868.8 296.7,886.2 297.8,904.4 298.8,921.8 299.9,936.9 300.9,948.7 302.0,956.4 303.0,949.3 304.1,938.2 305.1,924.1 306.2,907.8 307.2,890.9 308.3,874.6 309.3,860.4 310.4,849.4 311.4,842.3 312.5,848.4 313.5,857.8 314.6,870.0 315.6,883.9 316.7,898.5 317.7,912.4 318.8,924.5 319.8,934.0 320.9,940.1 321.9,929.5 323.0,913.1 324.0,892.1 325.1,867.9 326.1,842.7 327.2,818.6 328.2,797.5 329.3,781.2 330.3,770.6 331.4,781.8 332.4,799.1 333.5,821.4 334.5,846.9 335.6,873.5 336.6,899.1 337.7,921.3 338.7,938.7 339.8,949.9 340.8,940.8 341.9,926.8 342.9,908.8 344.0,888.1 345.0,866.6 346.1,845.9 347.1,827.9 348.2,813.9 349.3,804.8 350.3,818.6 351.4,839.8 352.4,867.1 353.5,898.5 354.5,931.2 355.6,962.5 356.6,989.8 357.7,1011.1 358.7,1024.8 359.8,1012.1 360.8,992.4 361.9,967.1 362.9,938.1 364.0,907.8 365.0,878.8 366.1,853.5 367.1,833.8 368.2,821.1 369.2,833.3 370.3,852.2 371.3,876.5 372.4,904.4 373.4,933.4 374.5,961.3 375.5,985.6 376.6,1004.5 377.6,1016.7 378.7,1002.6 379.7,980.9 380.8,953.0 381.8,920.9 382.9,887.5 383.9,855.5 385.0,827.5 386.0,805.8 387.1,791.8 388.1,801.7 389.2,817.2 390.2,837.0 391.3,859.8 392.3,883.5 393.4,906.2 394.4,926.1 395.5,941.5 396.5,951.5 397.6,940.0 398.6,922.2 399.7,899.3 400.7,873.1 401.8,845.7 402.8,819.5 403.9,796.6 405.0,778.8 406.0,767.3 407.1,776.8 408.1,791.4 409.2,810.3 410.2,831.8 411.3,854.4 412.3,875.9 413.4,894.8 414.4,909.4 415.5,918.9 416.5,907.5 417.6,889.9 418.6,867.2 419.7,841.2 420.7,814.1 421.8,788.1 422.8,765.4 423.9,747.8 424.9,736.3 426.0,744.7 427.0,757.6 428.1,774.2 429.1,793.2 430.2,813.1 431.2,832.1 432.3,848.7 433.3,861.6 434.4,870.0 435.4,858.6 436.5,841.0 437.5,818.3 438.6,792.3 439.6,765.2 440.7,739.2 441.7,716.5 442.8,698.9 443.8,687.4 444.9,697.8 445.9,713.9 447.0,734.5 448.0,758.2 449.1,782.9 450.1,806.6 451.2,827.3 452.2,843.3 453.3,853.7 454.3,845.5 455.4,833.0 456.4,816.8 457.5,798.2 458.5,778.8 459.6,760.2 460.7,744.0 461.7,731.5 462.8,723.3 463.8,733.5 464.9,749.2 465.9,769.5 467.0,792.7 468.0,816.9 469.1,840.1 470.1,860.4 471.2,876.1 472.2,886.3 473.3,876.1 474.3,860.4 475.4,840.1 476.4,816.9 477.5,792.7 478.5,769.5 479.6,749.2 480.6,733.5 481.7,723.3 482.7,735.5 483.8,754.4 484.8,778.7 485.9,806.6 486.9,835.6 488.0,863.5 489.0,887.8 490.1,906.7 491.1,918.9 492.2,904.6 493.2,882.6 494.3,854.2 495.3,821.8 496.4,787.8 497.4,755.4 498.5,727.0 499.5,705.0 500.6,690.7 501.6,704.7 502.7,726.2 503.7,754.0 504.8,785.8 505.8,819.0 506.9,850.7 507.9,878.5 509.0,900.0 510.0,914.0 511.1,896.0 512.1,868.1 513.2,832.3 514.2,791.2 515.3,748.3 516.4,707.2 517.4,671.4 518.5,643.5 519.5,625.5 520.6,635.7 521.6,651.4 522.7,671.7 523.7,694.9 524.8,719.1 525.8,742.3 526.9,762.6 527.9,778.3 529.0,788.5 530.0,773.5 531.1,750.4 532.1,720.6 533.2,686.5 534.2,650.9 535.3,616.8 536.3,587.0 537.4,563.9 538.4,548.9 539.5,563.9 540.5,587.0 541.6,616.8 542.6,650.9 543.7,686.5 544.7,720.6 545.8,750.4 546.8,773.5 547.9,788.5 548.9,772.9 550.0,748.8 551.0,717.8 552.1,682.3 553.1,645.3 554.2,609.8 555.2,578.8 556.3,554.7 557.3,539.1 558.4,553.7 559.4,576.2 560.5,605.2 561.5,638.3 562.6,673.0 563.6,706.2 564.7,735.1 565.7,757.6 566.8,772.2 567.8,757.2 568.9,734.1 569.9,704.3 571.0,670.2 572.1,634.6 573.1,600.5 574.2,570.7 575.2,547.6 576.3,532.6 577.3,546.6 578.4,568.1 579.4,595.9 580.5,627.6 581.5,660.8 582.6,692.6 583.6,720.4 584.7,741.9 585.7,755.9 586.8,738.4 587.8,711.3 588.9,676.5 589.9,636.6 591.0,594.9 592.0,555.0 593.1,520.1 594.1,493.1 595.2,475.5 596.2,491.0 597.3,515.0 598.3,545.7 599.4,581.0 600.4,617.8 601.5,653.1 602.5,683.9 603.6,707.8 604.6,723.3 605.7,706.3 606.7,680.0 607.8,646.2 608.8,607.4 609.9,567.0 610.9,528.2 612.0,494.4 613.0,468.1 614.1,451.1 615.1,466.1 616.2,489.2 617.2,519.0 618.3,553.1 619.3,588.7 620.4,622.8 621.4,652.6 622.5,675.7 623.5,690.7 624.6,679.5 625.6,662.2 626.7,639.9 627.8,614.4 628.8,587.7 629.9,562.2 630.9,539.9 632.0,522.6 633.0,511.4 634.1,524.7 635.1,545.1 636.2,571.4 637.2,601.6 638.3,633.1 639.3,663.3 640.4,689.6 641.4,710.0 642.5,723.3 643.5,714.1 644.6,700.0 645.6,681.7 646.7,660.9 647.7,639.0 648.8,618.2 649.8,599.9 650.9,585.8 651.9,576.6 653.0,588.8 654.0,607.7 655.1,632.0 656.1,659.9 657.2,688.9 658.2,716.8 659.3,741.1 660.3,760.0 661.4,772.2 662.4,764.0 663.5,751.5 664.5,735.3 665.6,716.7 666.6,697.3 667.7,678.7 668.7,662.5 669.8,650.0 670.8,641.8 671.9,652.0 672.9,667.7 674.0,688.0 675.0,711.2 676.1,735.4 677.1,758.6 678.2,778.9 679.2,794.6 680.3,804.8 681.3,796.1 682.4,782.8 683.5,765.5 684.5,745.8 685.6,725.2 686.6,705.5 687.7,688.3 688.7,674.9 689.8,666.2 690.8,679.0 691.9,698.7 692.9,724.0 694.0,753.0 695.0,783.3 696.1,812.3 697.1,837.6 698.2,857.3 699.2,870.0 700.3,858.8 701.3,841.5 702.4,819.2 703.4,793.7 704.5,767.0 705.5,741.5 706.6,719.2 707.6,701.9 708.7,690.7 709.7,702.3 710.8,720.3 711.8,743.3 712.9,769.8 713.9,797.4 715.0,823.9 716.0,847.0 717.1,864.9 718.1,876.5 719.2,865.9 720.2,849.6 721.3,828.5 722.3,804.4 723.4,779.2 724.4,755.0 725.5,734.0 726.5,717.6 727.6,707.0 728.6,718.7 729.7,736.8 730.7,760.1 731.8,786.8 732.8,814.7 733.9,841.3 734.9,864.6 736.0,882.7 737.0,894.4 738.1,883.7 739.2,867.2 740.2,846.0 741.3,821.6 742.3,796.2 743.4,771.8 744.4,750.5 745.5,734.0 746.5,723.3 747.6,734.9 748.6,752.9 749.7,775.9 750.7,802.4 751.8,830.0 752.8,856.5 753.9,879.6 754.9,897.5 756.0,909.1 757.0,897.6 758.1,879.8 759.1,856.9 760.2,830.7 761.2,803.3 762.3,777.1 763.3,754.2 764.4,736.4 765.4,724.9 766.5,736.2 767.5,753.7 768.6,776.2 769.6,801.9 770.7,828.8 771.7,854.6 772.8,877.1 773.8,894.5 774.9,905.9 775.9,895.8 777.0,880.2 778.0,860.1 779.1,837.2 780.1,813.2 781.2,790.2 782.2,770.2 783.3,754.6 784.3,744.5 785.4,756.6 786.4,775.3 787.5,799.4 788.5,827.1 789.6,855.9 790.6,883.5 791.7,907.6 792.7,926.3 793.8,938.5 794.9,926.0 795.9,906.8 797.0,882.1 798.0,853.8 799.1,824.3 800.1,795.9 801.2,771.2 802.2,752.0 803.3,739.6 804.3,752.9 805.4,773.3 806.4,799.6 807.5,829.8 808.5,861.3 809.6,891.5 810.6,917.8 811.7,938.2 812.7,951.5 813.8,935.2 814.8,910.0 815.9,877.6 816.9,840.5 818.0,801.7 819.0,764.6 820.1,732.2 821.1,707.0 822.2,690.7 823.2,702.9 824.3,721.8 825.3,746.1 826.4,774.0 827.4,803.0 828.5,830.9 829.5,855.2 830.6,874.1 831.6,886.3 832.7,871.0 833.7,847.4 834.8,817.0 835.8,782.2 836.9,745.9 837.9,711.1 839.0,680.7 840.0,657.1 841.1,641.8 842.1,652.0 843.2,667.7 844.2,688.0 845.3,711.2 846.3,735.4 847.4,758.6 848.4,778.9 849.5,794.6 850.6,804.8 851.6,791.8 852.7,771.6 853.7,745.7 854.8,716.0 855.8,685.0 856.9,655.3 857.9,629.3 859.0,609.2 860.0,596.2 861.1,608.2 862.1,626.8 863.2,650.7 864.2,678.0 865.3,706.6 866.3,734.0 867.4,757.9 868.4,776.5 869.5,788.5 870.5,776.3 871.6,757.4 872.6,733.1 873.7,705.2 874.7,676.2 875.8,648.3 876.8,624.0 877.9,605.1 878.9,592.9 880.0,603.1 881.0,618.8 882.1,639.1 883.1,662.3 884.2,686.5 885.2,709.7 886.3,730.0 887.3,745.7 888.4,755.9 889.4,746.7 890.5,732.6 891.5,714.3 892.6,693.5 893.6,671.6 894.7,650.8 895.7,632.5 896.8,618.4 897.8,609.2 898.9,619.4 899.9,635.1 901.0,655.4 902.0,678.6 903.1,702.8 904.1,726.0 905.2,746.3 906.3,762.0 907.3,772.2 908.4,761.0 909.4,743.7 910.5,721.4 911.5,695.9 912.6,669.2 913.6,643.7 914.7,621.4 915.7,604.1 916.8,592.9 917.8,606.2 918.9,626.6 919.9,652.9 921.0,683.1 922.0,714.6 923.1,744.8 924.1,771.1 925.2,791.5 926.2,804.8 927.3,790.5 928.3,768.5 929.4,740.1 930.4,707.7 931.5,673.7 932.5,641.3 933.6,612.9 934.6,590.9 935.7,576.6 936.7,589.9 937.8,610.3 938.8,636.6 939.9,666.8 940.9,698.3 942.0,728.5 943.0,754.8 944.1,775.2 945.1,788.5 946.2,773.2 947.2,749.6 948.3,719.2 949.3,684.4 950.4,648.1 951.4,613.3 952.5,582.9 953.5,559.3 954.6,544.0 955.6,558.3 956.7,580.3 957.7,608.7 958.8,641.1 959.8,675.1 960.9,707.5 962.0,735.9 963.0,757.9 964.1,772.2 965.1,756.7 966.2,732.8 967.2,702.0 968.3,666.7 969.3,629.9 970.4,594.6 971.4,563.9 972.5,539.9 973.5,524.4 974.6,538.9 975.6,561.3 976.7,590.0 977.7,623.0 978.8,657.4 979.8,690.3 980.9,719.1 981.9,741.4 983.0,755.9 984.0,743.1 985.1,723.2 986.1,697.7 987.2,668.5 988.2,637.9 989.3,608.7 990.3,583.2 991.4,563.4 992.4,550.5 993.5,563.4 994.5,583.2 995.6,608.7 996.6,637.9 997.7,668.5 998.7,697.7 999.8,723.2 1000.8,743.1 1001.9,755.9 1002.9,741.1 1004.0,718.3 1005.0,688.9 1006.1,655.3 1007.1,620.2 1008.2,586.5 1009.2,557.1 1010.3,534.3 1011.3,519.5 1012.4,532.3 1013.4,552.0 1014.5,577.3 1015.5,606.3 1016.6,636.6 1017.7,665.6 1018.7,690.9 1019.8,710.6 1020.8,723.3 1021.9,706.0 1022.9,679.2 1024.0,644.8 1025.0,605.3 1026.1,564.2 1027.1,524.7 1028.2,490.3 1029.2,463.5 1030.3,446.2 1031.3,455.2 1032.4,469.0 1033.4,486.8 1034.5,507.3 1035.5,528.6 1036.6,549.0 1037.6,566.8 1038.7,580.7 1039.7,589.6 1040.8,578.8 1041.8,562.2 1042.9,540.7 1043.9,516.1 1045.0,490.4 1046.0,465.8 1047.1,444.3 1048.1,427.7 1049.2,416.9 1050.2,428.6 1051.3,446.7 1052.3,470.0 1053.4,496.7 1054.4,524.5 1055.5,551.2 1056.5,574.5 1057.6,592.6 1058.6,604.3 1059.7,597.0 1060.7,585.6 1061.8,571.1 1062.8,554.4 1063.9,536.9 1064.9,520.2 1066.0,505.6 1067.0,494.3 1068.1,486.9 1069.1,498.7 1070.2,516.8 1071.2,540.1 1072.3,566.7 1073.4,594.6 1074.4,621.3 1075.5,644.6 1076.5,662.7 1077.6,674.4 1078.6,667.9 1079.7,657.8 1080.7,644.8 1081.8,630.0 1082.8,614.5 1083.9,599.6 1084.9,586.7 1086.0,576.6 1087.0,570.1 1088.1,580.7 1089.1,597.0 1090.2,618.1 1091.2,642.2 1092.3,667.4 1093.3,691.6 1094.4,712.6 1095.4,729.0 1096.5,739.6 1097.5,731.4 1098.6,718.9 1099.6,702.7 1100.7,684.1 1101.7,664.7 1102.8,646.1 1103.8,629.9 1104.9,617.4 1105.9,609.2 1107.0,618.4 1108.0,632.5 1109.1,650.8 1110.1,671.6 1111.2,693.5 1112.2,714.3 1113.3,732.6 1114.3,746.7 1115.4,755.9 1116.4,747.7 1117.5,735.2 1118.5,719.0 1119.6,700.4 1120.6,681.0 1121.7,662.4 1122.7,646.2 1123.8,633.7 1124.8,625.5 1125.9,634.3 1126.9,647.8 1128.0,665.2 1129.1,685.2 1130.1,706.0 1131.2,726.0 1132.2,743.4 1133.3,756.9 1134.3,765.7 1135.4,756.9 1136.4,743.4 1137.5,726.0 1138.5,706.0 1139.6,685.2 1140.6,665.2 1141.7,647.8 1142.7,634.3 1143.8,625.5 1144.8,634.3 1145.9,647.8 1146.9,665.2 1148.0,685.2 1149.0,706.0 1150.1,726.0 1151.1,743.4 1152.2,756.9 1153.2,765.7 1154.3,757.5 1155.3,744.9 1156.4,728.7 1157.4,710.2 1158.5,690.8 1159.5,672.2 1160.6,656.0 1161.6,643.4 1162.7,635.3 1163.7,644.9 1164.8,659.7 1165.8,678.7 1166.9,700.5 1167.9,723.3 1169.0,745.1 1170.0,764.1 1171.1,778.9 1172.1,788.5 1173.2,781.5 1174.2,770.6 1175.3,756.6 1176.3,740.6 1177.4,723.9 1178.4,707.9 1179.5,693.9 1180.5,683.1 1181.6,676.0 1182.6,686.1 1183.7,701.7 1184.8,721.8 1185.8,744.7 1186.9,768.7 1187.9,791.7 1189.0,811.7 1190.0,827.3 1191.1,837.4 1192.1,828.2 1193.2,814.1 1194.2,795.8 1195.3,775.0 1196.3,753.1 1197.4,732.3 1198.4,714.0 1199.5,699.9 1200.5,690.7 1201.6,699.7 1202.6,713.5 1203.7,731.3 1204.7,751.8 1205.8,773.1 1206.8,793.5 1207.9,811.3 1208.9,825.2 1210.0,834.1 1211.0,826.2 1212.1,813.9 1213.1,798.1 1214.2,780.0 1215.2,761.1 1216.3,743.0 1217.3,727.2 1218.4,715.0 1219.4,707.0 1220.5,718.7 1221.5,736.8 1222.6,760.1 1223.6,786.8 1224.7,814.7 1225.7,841.3 1226.8,864.6 1227.8,882.7 1228.9,894.4 1229.9,883.7 1231.0,867.2 1232.0,846.0 1233.1,821.6 1234.1,796.2 1235.2,771.8 1236.2,750.5 1237.3,734.0 1238.4,723.3 1239.4,737.1 1240.5,758.3 1241.5,785.6 1242.6,817.0 1243.6,849.7 1244.7,881.0 1245.7,908.3 1246.8,929.6 1247.8,943.3 1248.9,929.6 1249.9,908.3 1251.0,881.0 1252.0,849.7 1253.1,817.0 1254.1,785.6 1255.2,758.3 1256.2,737.1 1257.3,723.3 1258.3,737.1 1259.4,758.3 1260.4,785.6 1261.5,817.0 1262.5,849.7 1263.6,881.0 1264.6,908.3 1265.7,929.6 1266.7,943.3 1267.8,929.6 1268.8,908.3 1269.9,881.0 1270.9,849.7 1272.0,817.0 1273.0,785.6 1274.1,758.3 1275.1,737.1 1276.2,723.3 1277.2,733.4 1278.3,749.0 1279.3,769.0 1280.4,792.0 1281.4,816.0 1282.5,838.9 1283.5,859.0 1284.6,874.6 1285.6,884.7 1286.7,872.5 1287.7,853.8 1288.8,829.7 1289.8,802.1 1290.9,773.3 1291.9,745.7 1293.0,721.6 1294.1,702.8 1295.1,690.7 1296.2,698.5 1297.2,710.7 1298.3,726.3 1299.3,744.1 1300.4,762.8 1301.4,780.6 1302.5,796.2 1303.5,808.4 1304.6,816.2 1305.6,807.3 1306.7,793.7 1307.7,776.0 1308.8,755.8 1309.8,734.8 1310.9,714.6 1311.9,697.0 1313.0,683.3 1314.0,674.4 1315.1,685.7 1316.1,703.2 1317.2,725.7 1318.2,751.4 1319.3,778.3 1320.3,804.1 1321.4,826.5 1322.4,844.0 1323.5,855.3 1324.5,842.0 1325.6,821.4 1326.6,794.8 1327.7,764.4 1328.7,732.7 1329.8,702.3 1330.8,675.8 1331.9,655.2 1332.9,641.8 1334.0,659.6 1335.0,687.2 1336.1,722.6 1337.1,763.2 1338.2,805.6 1339.2,846.2 1340.3,881.7 1341.3,909.2 1342.4,927.0 1343.4,912.3 1344.5,889.5 1345.5,860.1 1346.6,826.4 1347.6,791.3 1348.7,757.7 1349.8,728.3 1350.8,705.5 1351.9,690.7 1352.9,707.4 1354.0,733.2 1355.0,766.4 1356.1,804.5 1357.1,844.2 1358.2,882.3 1359.2,915.5 1360.3,941.3 1361.3,958.0 1362.4,941.3 1363.4,915.5 1364.5,882.3 1365.5,844.2 1366.6,804.5 1367.6,766.4 1368.7,733.2 1369.7,707.4 1370.8,690.7 1371.8,701.9 1372.9,719.2 1373.9,741.5 1375.0,767.0 1376.0,793.7 1377.1,819.2 1378.1,841.5 1379.2,858.8 1380.2,870.0 1381.3,854.7 1382.3,831.1 1383.4,800.7 1384.4,765.9 1385.5,729.6 1386.5,694.8 1387.6,664.4 1388.6,640.8 1389.7,625.5 1390.7,639.8 1391.8,661.8 1392.8,690.2 1393.9,722.6 1394.9,756.6 1396.0,789.0 1397.0,817.4 1398.1,839.4 1399.1,853.7 1400.2,834.9 1401.2,806.0 1402.3,768.7 1403.3,726.0 1404.4,681.5 1405.5,638.8 1406.5,601.5 1407.6,572.5 1408.6,553.8 1409.7,569.5 1410.7,593.7 1411.8,624.9 1412.8,660.6 1413.9,697.9 1414.9,733.7 1416.0,764.9 1417.0,789.1 1418.1,804.8 1419.1,796.8 1420.2,784.6 1421.2,768.8 1422.3,750.7 1423.3,731.8 1424.4,713.7 1425.4,697.9 1426.5,685.6 1427.5,677.7 1428.6,692.3 1429.6,715.0 1430.7,744.2 1431.7,777.6 1432.8,812.5 1433.8,845.9 1434.9,875.0 1435.9,897.7 1437.0,912.4 1438.0,899.5 1439.1,879.7 1440.1,854.2 1441.2,825.0 1442.2,794.4 1443.3,765.2 1444.3,739.7 1445.4,719.8 1446.4,707.0 1447.5,723.1 1448.5,748.0 1449.6,780.0 1450.6,816.6 1451.7,854.9 1452.7,891.6 1453.8,923.6 1454.8,948.4 1455.9,964.5 1456.9,947.4 1458.0,921.0 1459.0,887.0 1460.1,848.0 1461.2,807.3 1462.2,768.3 1463.3,734.3 1464.3,707.8 1465.4,690.7 1466.4,701.9 1467.5,719.2 1468.5,741.5 1469.6,767.0 1470.6,793.7 1471.7,819.2 1472.7,841.5 1473.8,858.8 1474.8,870.0 1475.9,855.0 1476.9,831.9 1478.0,802.1 1479.0,768.0 1480.1,732.4 1481.1,698.3 1482.2,668.5 1483.2,645.4 1484.3,630.4 1485.3,644.4 1486.4,665.9 1487.4,693.7 1488.5,725.4 1489.5,758.6 1490.6,790.4 1491.6,818.2 1492.7,839.7 1493.7,853.7 1494.8,835.7 1495.8,807.8 1496.9,772.0 1497.9,730.9 1499.0,688.0 1500.0,646.9 1501.1,611.1 1502.1,583.2 1503.2,565.2 1504.2,581.2 1505.3,605.9 1506.3,637.7 1507.4,674.1 1508.4,712.2 1509.5,748.6 1510.5,780.4 1511.6,805.1 1512.6,821.1 1513.7,804.0 1514.7,777.5 1515.8,743.5 1516.9,704.5 1517.9,663.8 1519.0,624.8 1520.0,590.8 1521.1,564.4 1522.1,547.3 1523.2,564.4 1524.2,590.8 1525.3,624.8 1526.3,663.8 1527.4,704.5 1528.4,743.5 1529.5,777.5 1530.5,804.0 1531.6,821.1 1532.6,807.2 1533.7,785.8 1534.7,758.3 1535.8,726.7 1536.8,693.8 1537.9,662.2 1538.9,634.7 1540.0,613.3 1541.0,599.4 1542.1,612.8 1543.1,633.4 1544.2,659.9 1545.2,690.3 1546.3,722.1 1547.3,752.4 1548.4,779.0 1549.4,799.6 1550.5,812.9 1551.5,804.3 1552.6,790.9 1553.6,773.7 1554.7,754.0 1555.7,733.4 1556.8,713.7 1557.8,696.4 1558.9,683.1 1559.9,674.4 1561.0,688.5 1562.0,710.2 1563.1,738.1 1564.1,770.2 1565.2,803.6 1566.2,835.6 1567.3,863.6 1568.3,885.3 1569.4,899.3 1570.4,886.3 1571.5,866.2 1572.6,840.2 1573.6,810.5 1574.7,779.5 1575.7,749.8 1576.8,723.9 1577.8,703.7 1578.9,690.7 1579.9,706.7 1581.0,731.4 1582.0,763.2 1583.1,799.6 1584.1,837.7 1585.2,874.1 1586.2,905.9 1587.3,930.6 1588.3,946.6 1589.4,931.6 1590.4,908.5 1591.5,878.7 1592.5,844.6 1593.6,809.0 1594.6,774.9 1595.7,745.1 1596.7,722.0 1597.8,707.0 1598.8,719.2 1599.9,738.1 1600.9,762.4 1602.0,790.3 1603.0,819.3 1604.1,847.2 1605.1,871.5 1606.2,890.4 1607.2,902.6 1608.3,889.3 1609.3,868.9 1610.4,842.6 1611.4,812.4 1612.5,780.9 1613.5,750.7 1614.6,724.4 1615.6,704.0 1616.7,690.7 1617.7,698.9 1618.8,711.4 1619.8,727.6 1620.9,746.2 1621.9,765.6 1623.0,784.2 1624.0,800.4 1625.1,812.9 1626.1,821.1 1627.2,812.1 1628.3,798.3 1629.3,780.5 1630.4,760.0 1631.4,738.7 1632.5,718.3 1633.5,700.5 1634.6,686.6 1635.6,677.7 1636.7,691.7 1637.7,713.4 1638.8,741.4 1639.8,773.4 1640.9,806.8 1641.9,838.9 1643.0,866.8 1644.0,888.5 1645.1,902.6 1646.1,888.3 1647.2,866.3 1648.2,837.9 1649.3,805.5 1650.3,771.5 1651.4,739.1 1652.4,710.7 1653.5,688.7 1654.5,674.4 1655.6,689.2 1656.6,712.0 1657.7,741.4 1658.7,775.0 1659.8,810.1 1660.8,843.8 1661.9,873.2 1662.9,896.0 1664.0,910.8 1665.0,896.0 1666.1,873.2 1667.1,843.8 1668.2,810.1 1669.2,775.0 1670.3,741.4 1671.3,712.0 1672.4,689.2 1673.4,674.4 1674.5,691.7 1675.5,718.5 1676.6,752.9 1677.6,792.4 1678.7,833.5 1679.7,873.0 1680.8,907.4 1681.8,934.2 1682.9,951.5 1684.0,935.2 1685.0,910.0 1686.1,877.6 1687.1,840.5 1688.2,801.7 1689.2,764.6 1690.3,732.2 1691.3,707.0 1692.4,690.7 1693.4,706.0 1694.5,729.6 1695.5,760.0 1696.6,794.8 1697.6,831.1 1698.7,865.9" stroke="#f000f0"/>
</g>
<rect x="1234.5" y="100.5" width="442" height="353.5" fill="#000"/>
<rect x="1219.5" y="85.5" width="442" height="353.5" fill="#fff" stroke="#888" stroke-width="2"/>
<line x1="1240" y1="134.2" x2="1404" y2="134.2" stroke="#000" stroke-width="3.4"/>
<line x1="1240" y1="222.0" x2="1404" y2="222.0" stroke="#c02828" stroke-width="3.4"/>
<line x1="1240" y1="309.8" x2="1404" y2="309.8" stroke="#2828c8" stroke-width="3.4"/>
<line x1="1240" y1="397.6" x2="1404" y2="397.6" stroke="#c040c8" stroke-width="3.4"/>
<text x="1415.0" y="156.0" font-family="'Liberation Serif', 'DejaVu Serif', serif" font-size="60.5" textLength="233.06" lengthAdjust="spacingAndGlyphs" fill="#111">Model A</text>
<text x="1415.0" y="243.8" font-family="'Liberation Serif', 'DejaVu Serif', serif" font-size="60.5" textLength="225.34" lengthAdjust="spacingAndGlyphs" fill="#111">Model B</text>
<text x="1415.0" y="331.6" font-family="'Liberation Serif', 'DejaVu Serif', serif" font-size="60.5" textLength="233.34" lengthAdjust="spacingAndGlyphs" fill="#111">Model C</text>
<text x="1415.0" y="419.4" font-family="'Liberation Serif', 'DejaVu Serif', serif" font-size="60.5" textLength="236.21" lengthAdjust="spacingAndGlyphs" fill="#111">Model D</text>
<g stroke="#222" stroke-width="3" fill="none">
<rect x="279.6" y="71.3" width="1418.0" height="1141.0"/>
<line x1="257.5" y1="1212.3" x2="279.6" y2="1212.3"/>
<line x1="257.5" y1="1049.3" x2="279.6" y2="1049.3"/>
<line x1="257.5" y1="886.3" x2="279.6" y2="886.3"/>
<line x1="257.5" y1="723.3" x2="279.6" y2="723.3"/>
<line x1="257.5" y1="560.3" x2="279.6" y2="560.3"/>
<line x1="257.5" y1="397.3" x2="279.6" y2="397.3"/>
<line x1="257.5" y1="234.3" x2="279.6" y2="234.3"/>
<line x1="257.5" y1="71.3" x2="279.6" y2="71.3"/>
<line x1="268" y1="1130.8" x2="279.6" y2="1130.8"/>
<line x1="268" y1="967.8" x2="279.6" y2="967.8"/>
<line x1="268" y1="804.8" x2="279.6" y2="804.8"/>
<line x1="268" y1="641.8" x2="279.6" y2="641.8"/>
<line x1="268" y1="478.8" x2="279.6" y2="478.8"/>
<line x1="268" y1="315.8" x2="279.6" y2="315.8"/>
<line x1="268" y1="152.8" x2="279.6" y2="152.8"/>
<line x1="279.6" y1="1212.3" x2="279.6" y2="1235"/>
<line x1="634.1" y1="1212.3" x2="634.1" y2="1235"/>
<line x1="988.6" y1="1212.3" x2="988.6" y2="1235"/>
<line x1="1343.1" y1="1212.3" x2="1343.1" y2="1235"/>
<line x1="1697.6" y1="1212.3" x2="1697.6" y2="1235"/>
<line x1="456.9" y1="1212.3" x2="456.9" y2="1225"/>
<line x1="811.4" y1="1212.3" x2="811.4" y2="1225"/>
<line x1="1165.8" y1="1212.3" x2="1165.8" y2="1225"/>
<line x1="1520.3" y1="1212.3" x2="1520.3" y2="1225"/>
</g>
<text x="142.8" y="96.0" font-family="'Liberation Serif', 'DejaVu Serif', serif" font-size="62" textLength="95.78" lengthAdjust="spacingAndGlyphs" fill="#111">730</text>
<text x="146.0" y="256.0" font-family="'Liberation Serif', 'DejaVu Serif', serif" font-size="62" textLength="96.43" lengthAdjust="spacingAndGlyphs" fill="#111">720</text>
<text x="148.4" y="410.8" font-family="'Liberation Serif', 'DejaVu Serif', serif" font-size="62" textLength="94.07" lengthAdjust="spacingAndGlyphs" fill="#111">710</text>
<text x="145.2" y="579.2" font-family="'Liberation Serif', 'DejaVu Serif', serif" font-size="62" textLength="93.42" lengthAdjust="spacingAndGlyphs" fill="#111">700</text>
<text x="151.8" y="737.2" font-family="'Liberation Serif', 'DejaVu Serif', serif" font-size="62" textLength="95.33" lengthAdjust="spacingAndGlyphs" fill="#111">690</text>
<text x="155.8" y="905.6" font-family="'Liberation Serif', 'DejaVu Serif', serif" font-size="62" textLength="92.36" lengthAdjust="spacingAndGlyphs" fill="#111">680</text>
<text x="151.0" y="1065.2" font-family="'Liberation Serif', 'DejaVu Serif', serif" font-size="62" textLength="92.36" lengthAdjust="spacingAndGlyphs" fill="#111">670</text>
<text x="153.4" y="1229.6" font-family="'Liberation Serif', 'DejaVu Serif', serif" font-size="62" textLength="93.0" lengthAdjust="spacingAndGlyphs" fill="#111">660</text>
<text x="212.6" y="1291.1" font-family="'Liberation Serif', 'DejaVu Serif', serif" font-size="60" textLength="136.23" lengthAdjust="spacingAndGlyphs" fill="#111">0.000</text>
<text x="565.6" y="1291.1" font-family="'Liberation Serif', 'DejaVu Serif', serif" font-size="60" textLength="137.88" lengthAdjust="spacingAndGlyphs" fill="#111">0.005</text>
<text x="920.6" y="1291.1" font-family="'Liberation Serif', 'DejaVu Serif', serif" font-size="60" textLength="136.23" lengthAdjust="spacingAndGlyphs" fill="#111">0.010</text>
<text x="1275.6" y="1291.1" font-family="'Liberation Serif', 'DejaVu Serif', serif" font-size="60" textLength="135.2" lengthAdjust="spacingAndGlyphs" fill="#111">0.015</text>
<text x="1629.6" y="1291.1" font-family="'Liberation Serif', 'DejaVu Serif', serif" font-size="60" textLength="134.39" lengthAdjust="spacingAndGlyphs" fill="#111">0.020</text>
<text x="865.0" y="1353.6" font-family="'Liberation Serif', 'DejaVu Serif', serif" font-size="69.9" textLength="268.75" lengthAdjust="spacingAndGlyphs" fill="#111">Time [ s ]</text>
<text x="902.8" y="1474.65" font-family="'Liberation Serif', 'DejaVu Serif', serif" font-size="109" textLength="126.22" lengthAdjust="spacingAndGlyphs" fill="#111">(a)</text>
<text transform="translate(108.2,936.1) rotate(-90)" x="0" y="0" font-family="'Liberation Serif', 'DejaVu Serif', serif" font-size="100" textLength="619.52" lengthAdjust="spacingAndGlyphs" fill="#111">Pressure (kPa)</text>
<g clip-path="url(#c2)">
<polyline points="379.3,1640.2 467.4,1864.5 555.5,2084.0 643.6,2332.9 731.8,2471.1 819.9,2538.3 908.0,2565.7 996.1,2569.5 1084.2,2569.5 1172.3,2569.5 1260.4,2569.5 1348.5,2569.5 1436.7,2569.5 1524.8,2569.5 1612.9,2569.5 1701.0,2569.5" fill="none" stroke="#000" stroke-width="3.0" stroke-linejoin="round"/>
<polyline points="379.3,1636.4 467.4,1867.3 555.5,2079.3 643.6,2336.7 731.8,2471.1 819.9,2538.3 908.0,2565.7 996.1,2569.5 1084.2,2569.5 1172.3,2569.5 1260.4,2569.5 1348.5,2569.5 1436.7,2569.5 1524.8,2569.5 1612.9,2569.5 1701.0,2569.5" fill="none" stroke="#f00000" stroke-width="3.0" stroke-linejoin="round"/>
<polyline points="379.3,1651.6 467.4,1844.6 555.5,2098.2 643.6,2317.8 731.8,2465.4 819.9,2535.4 908.0,2564.8 996.1,2569.5 1084.2,2569.5 1172.3,2569.5 1260.4,2569.5 1348.5,2569.5 1436.7,2569.5 1524.8,2569.5 1612.9,2569.5 1701.0,2569.5" fill="none" stroke="#0000f0" stroke-width="3.0" stroke-linejoin="round"/>
<polyline points="379.3,1623.2 467.4,1864.5 555.5,2071.7 643.6,2335.8 731.8,2472.0 819.9,2539.2 908.0,2565.7 996.1,2569.5 1084.2,2569.5 1172.3,2569.5 1260.4,2569.5 1348.5,2569.5 1436.7,2569.5 1524.8,2569.5 1612.9,2569.5 1701.0,2569.5" fill="none" stroke="#f000f0" stroke-width="3.0" stroke-linejoin="round"/>
<rect x="368.8" y="1629.7" width="21" height="21" fill="#000"/>
<rect x="456.9" y="1854.0" width="21" height="21" fill="#000"/>
<rect x="545.0" y="2073.5" width="21" height="21" fill="#000"/>
<rect x="633.1" y="2322.4" width="21" height="21" fill="#000"/>
<rect x="721.3" y="2460.6" width="21" height="21" fill="#000"/>
<rect x="809.4" y="2527.8" width="21" height="21" fill="#000"/>
<rect x="897.5" y="2555.2" width="21" height="21" fill="#000"/>
<rect x="985.6" y="2559.0" width="21" height="21" fill="#000"/>
<rect x="1073.7" y="2559.0" width="21" height="21" fill="#000"/>
<rect x="1161.8" y="2559.0" width="21" height="21" fill="#000"/>
<rect x="1249.9" y="2559.0" width="21" height="21" fill="#000"/>
<rect x="1338.0" y="2559.0" width="21" height="21" fill="#000"/>
<rect x="1426.2" y="2559.0" width="21" height="21" fill="#000"/>
<rect x="1514.3" y="2559.0" width="21" height="21" fill="#000"/>
<rect x="1602.4" y="2559.0" width="21" height="21" fill="#000"/>
<rect x="1690.5" y="2559.0" width="21" height="21" fill="#000"/>
<circle cx="379.3" cy="1636.4" r="12" fill="#f00000"/>
<circle cx="467.4" cy="1867.3" r="12" fill="#f00000"/>
<circle cx="555.5" cy="2079.3" r="12" fill="#f00000"/>
<circle cx="643.6" cy="2336.7" r="12" fill="#f00000"/>
<circle cx="731.8" cy="2471.1" r="12" fill="#f00000"/>
<circle cx="819.9" cy="2538.3" r="12" fill="#f00000"/>
<circle cx="908.0" cy="2565.7" r="12" fill="#f00000"/>
<circle cx="996.1" cy="2569.5" r="12" fill="#f00000"/>
<circle cx="1084.2" cy="2569.5" r="12" fill="#f00000"/>
<circle cx="1172.3" cy="2569.5" r="12" fill="#f00000"/>
<circle cx="1260.4" cy="2569.5" r="12" fill="#f00000"/>
<circle cx="1348.5" cy="2569.5" r="12" fill="#f00000"/>
<circle cx="1436.7" cy="2569.5" r="12" fill="#f00000"/>
<circle cx="1524.8" cy="2569.5" r="12" fill="#f00000"/>
<circle cx="1612.9" cy="2569.5" r="12" fill="#f00000"/>
<circle cx="1701.0" cy="2569.5" r="12" fill="#f00000"/>
<polygon points="364.3,1660.6 394.3,1660.6 379.3,1633.6" fill="#0000f0"/>
<polygon points="452.4,1853.6 482.4,1853.6 467.4,1826.6" fill="#0000f0"/>
<polygon points="540.5,2107.2 570.5,2107.2 555.5,2080.2" fill="#0000f0"/>
<polygon points="628.6,2326.8 658.6,2326.8 643.6,2299.8" fill="#0000f0"/>
<polygon points="716.8,2474.4 746.8,2474.4 731.8,2447.4" fill="#0000f0"/>
<polygon points="804.9,2544.4 834.9,2544.4 819.9,2517.4" fill="#0000f0"/>
<polygon points="893.0,2573.8 923.0,2573.8 908.0,2546.8" fill="#0000f0"/>
<polygon points="981.1,2578.5 1011.1,2578.5 996.1,2551.5" fill="#0000f0"/>
<polygon points="1069.2,2578.5 1099.2,2578.5 1084.2,2551.5" fill="#0000f0"/>
<polygon points="1157.3,2578.5 1187.3,2578.5 1172.3,2551.5" fill="#0000f0"/>
<polygon points="1245.4,2578.5 1275.4,2578.5 1260.4,2551.5" fill="#0000f0"/>
<polygon points="1333.5,2578.5 1363.5,2578.5 1348.5,2551.5" fill="#0000f0"/>
<polygon points="1421.7,2578.5 1451.7,2578.5 1436.7,2551.5" fill="#0000f0"/>
<polygon points="1509.8,2578.5 1539.8,2578.5 1524.8,2551.5" fill="#0000f0"/>
<polygon points="1597.9,2578.5 1627.9,2578.5 1612.9,2551.5" fill="#0000f0"/>
<polygon points="1686.0,2578.5 1716.0,2578.5 1701.0,2551.5" fill="#0000f0"/>
<polygon points="364.3,1614.2 394.3,1614.2 379.3,1641.2" fill="#f000f0"/>
<polygon points="452.4,1855.5 482.4,1855.5 467.4,1882.5" fill="#f000f0"/>
<polygon points="540.5,2062.7 570.5,2062.7 555.5,2089.7" fill="#f000f0"/>
<polygon points="628.6,2326.8 658.6,2326.8 643.6,2353.8" fill="#f000f0"/>
<polygon points="716.8,2463.0 746.8,2463.0 731.8,2490.0" fill="#f000f0"/>
<polygon points="804.9,2530.2 834.9,2530.2 819.9,2557.2" fill="#f000f0"/>
<polygon points="893.0,2556.7 923.0,2556.7 908.0,2583.7" fill="#f000f0"/>
<polygon points="981.1,2560.5 1011.1,2560.5 996.1,2587.5" fill="#f000f0"/>
<polygon points="1069.2,2560.5 1099.2,2560.5 1084.2,2587.5" fill="#f000f0"/>
<polygon points="1157.3,2560.5 1187.3,2560.5 1172.3,2587.5" fill="#f000f0"/>
<polygon points="1245.4,2560.5 1275.4,2560.5 1260.4,2587.5" fill="#f000f0"/>
<polygon points="1333.5,2560.5 1363.5,2560.5 1348.5,2587.5" fill="#f000f0"/>
<polygon points="1421.7,2560.5 1451.7,2560.5 1436.7,2587.5" fill="#f000f0"/>
<polygon points="1509.8,2560.5 1539.8,2560.5 1524.8,2587.5" fill="#f000f0"/>
<polygon points="1597.9,2560.5 1627.9,2560.5 1612.9,2587.5" fill="#f000f0"/>
<polygon points="1686.0,2560.5 1716.0,2560.5 1701.0,2587.5" fill="#f000f0"/>
</g>
<rect x="1228.3" y="1563" width="451.5" height="360" fill="#000"/>
<rect x="1213.3" y="1547.2" width="449.7" height="360" fill="#fff" stroke="#999" stroke-width="2"/>
<line x1="1244.8" y1="1603.0" x2="1403.2" y2="1603.0" stroke="#000" stroke-width="2.4"/>
<line x1="1244.8" y1="1690.7" x2="1403.2" y2="1690.7" stroke="#f00000" stroke-width="2.4"/>
<line x1="1244.8" y1="1778.4" x2="1403.2" y2="1778.4" stroke="#0000f0" stroke-width="2.4"/>
<line x1="1244.8" y1="1866.1" x2="1403.2" y2="1866.1" stroke="#f000f0" stroke-width="2.4"/>
<rect x="1312.3" y="1592.0" width="22" height="22" fill="#000"/>
<circle cx="1323.3" cy="1690.7" r="12.3" fill="#f00000"/>
<polygon points="1307.8,1789.7 1338.8,1789.7 1323.3,1761.7" fill="#0000f0"/>
<polygon points="1307.8,1854.8 1338.8,1854.8 1323.3,1882.8" fill="#f000f0"/>
<text x="1417.0" y="1625.1" font-family="'Liberation Serif', 'DejaVu Serif', serif" font-size="61.5" textLength="230.56" lengthAdjust="spacingAndGlyphs" fill="#111">Model A</text>
<text x="1417.0" y="1712.8" font-family="'Liberation Serif', 'DejaVu Serif', serif" font-size="61.5" textLength="222.7" lengthAdjust="spacingAndGlyphs" fill="#111">Model B</text>
<text x="1417.0" y="1800.5" font-family="'Liberation Serif', 'DejaVu Serif', serif" font-size="61.5" textLength="230.68" lengthAdjust="spacingAndGlyphs" fill="#111">Model C</text>
<text x="1417.0" y="1888.2" font-family="'Liberation Serif', 'DejaVu Serif', serif" font-size="61.5" textLength="233.62" lengthAdjust="spacingAndGlyphs" fill="#111">Model D</text>
<g stroke="#222" stroke-width="3" fill="none">
<rect x="291.2" y="1529.0" width="1409.8" height="1135.0"/>
<line x1="269.5" y1="2569.5" x2="291.2" y2="2569.5"/>
<line x1="269.5" y1="2380.2" x2="291.2" y2="2380.2"/>
<line x1="269.5" y1="2191.0" x2="291.2" y2="2191.0"/>
<line x1="269.5" y1="2001.7" x2="291.2" y2="2001.7"/>
<line x1="269.5" y1="1812.5" x2="291.2" y2="1812.5"/>
<line x1="269.5" y1="1623.2" x2="291.2" y2="1623.2"/>
<line x1="281" y1="2474.9" x2="291.2" y2="2474.9"/>
<line x1="281" y1="2285.6" x2="291.2" y2="2285.6"/>
<line x1="281" y1="2096.3" x2="291.2" y2="2096.3"/>
<line x1="281" y1="1907.1" x2="291.2" y2="1907.1"/>
<line x1="281" y1="1717.8" x2="291.2" y2="1717.8"/>
<line x1="291.2" y1="2664.0" x2="291.2" y2="2688"/>
<line x1="467.4" y1="2664.0" x2="467.4" y2="2688"/>
<line x1="643.6" y1="2664.0" x2="643.6" y2="2688"/>
<line x1="819.9" y1="2664.0" x2="819.9" y2="2688"/>
<line x1="996.1" y1="2664.0" x2="996.1" y2="2688"/>
<line x1="1172.3" y1="2664.0" x2="1172.3" y2="2688"/>
<line x1="1348.5" y1="2664.0" x2="1348.5" y2="2688"/>
<line x1="1524.8" y1="2664.0" x2="1524.8" y2="2688"/>
<line x1="1701.0" y1="2664.0" x2="1701.0" y2="2688"/>
<line x1="379.3" y1="2664.0" x2="379.3" y2="2677"/>
<line x1="555.5" y1="2664.0" x2="555.5" y2="2677"/>
<line x1="731.8" y1="2664.0" x2="731.8" y2="2677"/>
<line x1="908.0" y1="2664.0" x2="908.0" y2="2677"/>
<line x1="1084.2" y1="2664.0" x2="1084.2" y2="2677"/>
<line x1="1260.4" y1="2664.0" x2="1260.4" y2="2677"/>
<line x1="1436.7" y1="2664.0" x2="1436.7" y2="2677"/>
<line x1="1612.9" y1="2664.0" x2="1612.9" y2="2677"/>
</g>
<text x="171.0" y="2583.5" font-family="'Liberation Serif', 'DejaVu Serif', serif" font-size="68" textLength="82.86" lengthAdjust="spacingAndGlyphs" fill="#111">0.0</text>
<text x="171.0" y="2394.24" font-family="'Liberation Serif', 'DejaVu Serif', serif" font-size="68" textLength="83.92" lengthAdjust="spacingAndGlyphs" fill="#111">0.2</text>
<text x="171.0" y="2204.98" font-family="'Liberation Serif', 'DejaVu Serif', serif" font-size="68" textLength="81.86" lengthAdjust="spacingAndGlyphs" fill="#111">0.4</text>
<text x="171.0" y="2015.72" font-family="'Liberation Serif', 'DejaVu Serif', serif" font-size="68" textLength="82.87" lengthAdjust="spacingAndGlyphs" fill="#111">0.6</text>
<text x="171.0" y="1826.46" font-family="'Liberation Serif', 'DejaVu Serif', serif" font-size="68" textLength="82.86" lengthAdjust="spacingAndGlyphs" fill="#111">0.8</text>
<text x="168.0" y="1637.2" font-family="'Liberation Serif', 'DejaVu Serif', serif" font-size="68" textLength="86.12" lengthAdjust="spacingAndGlyphs" fill="#111">1.0</text>
<text x="274.05" y="2743.75" font-family="'Liberation Serif', 'DejaVu Serif', serif" font-size="63" textLength="34.61" lengthAdjust="spacingAndGlyphs" fill="#111">0</text>
<text x="418.02" y="2743.75" font-family="'Liberation Serif', 'DejaVu Serif', serif" font-size="63" textLength="95.16" lengthAdjust="spacingAndGlyphs" fill="#111">100</text>
<text x="597.25" y="2743.75" font-family="'Liberation Serif', 'DejaVu Serif', serif" font-size="63" textLength="91.95" lengthAdjust="spacingAndGlyphs" fill="#111">200</text>
<text x="773.48" y="2743.75" font-family="'Liberation Serif', 'DejaVu Serif', serif" font-size="63" textLength="91.95" lengthAdjust="spacingAndGlyphs" fill="#111">300</text>
<text x="951.7" y="2743.75" font-family="'Liberation Serif', 'DejaVu Serif', serif" font-size="63" textLength="89.93" lengthAdjust="spacingAndGlyphs" fill="#111">400</text>
<text x="1124.92" y="2743.75" font-family="'Liberation Serif', 'DejaVu Serif', serif" font-size="63" textLength="93.0" lengthAdjust="spacingAndGlyphs" fill="#111">500</text>
<text x="1302.15" y="2743.75" font-family="'Liberation Serif', 'DejaVu Serif', serif" font-size="63" textLength="91.95" lengthAdjust="spacingAndGlyphs" fill="#111">600</text>
<text x="1477.38" y="2743.75" font-family="'Liberation Serif', 'DejaVu Serif', serif" font-size="63" textLength="93.0" lengthAdjust="spacingAndGlyphs" fill="#111">700</text>
<text x="1655.6" y="2743.75" font-family="'Liberation Serif', 'DejaVu Serif', serif" font-size="63" textLength="90.93" lengthAdjust="spacingAndGlyphs" fill="#111">800</text>
<text x="776.0" y="2864.7" font-family="'Liberation Sans', Arial, sans-serif" font-size="58.5" textLength="439.78" lengthAdjust="spacingAndGlyphs" fill="#1a1a1a">Frequency [ Hz ]</text>
<text x="933.6" y="2977.4" font-family="'Liberation Serif', 'DejaVu Serif', serif" font-size="108" textLength="133.1" lengthAdjust="spacingAndGlyphs" fill="#111">(b)</text>
<text transform="translate(132,2544.0) rotate(-90)" x="0" y="0" font-family="'Liberation Serif', 'DejaVu Serif', serif" font-size="80" textLength="971.04" lengthAdjust="spacingAndGlyphs" fill="#111">Normalized power spectrum</text>
</svg></body></html>
